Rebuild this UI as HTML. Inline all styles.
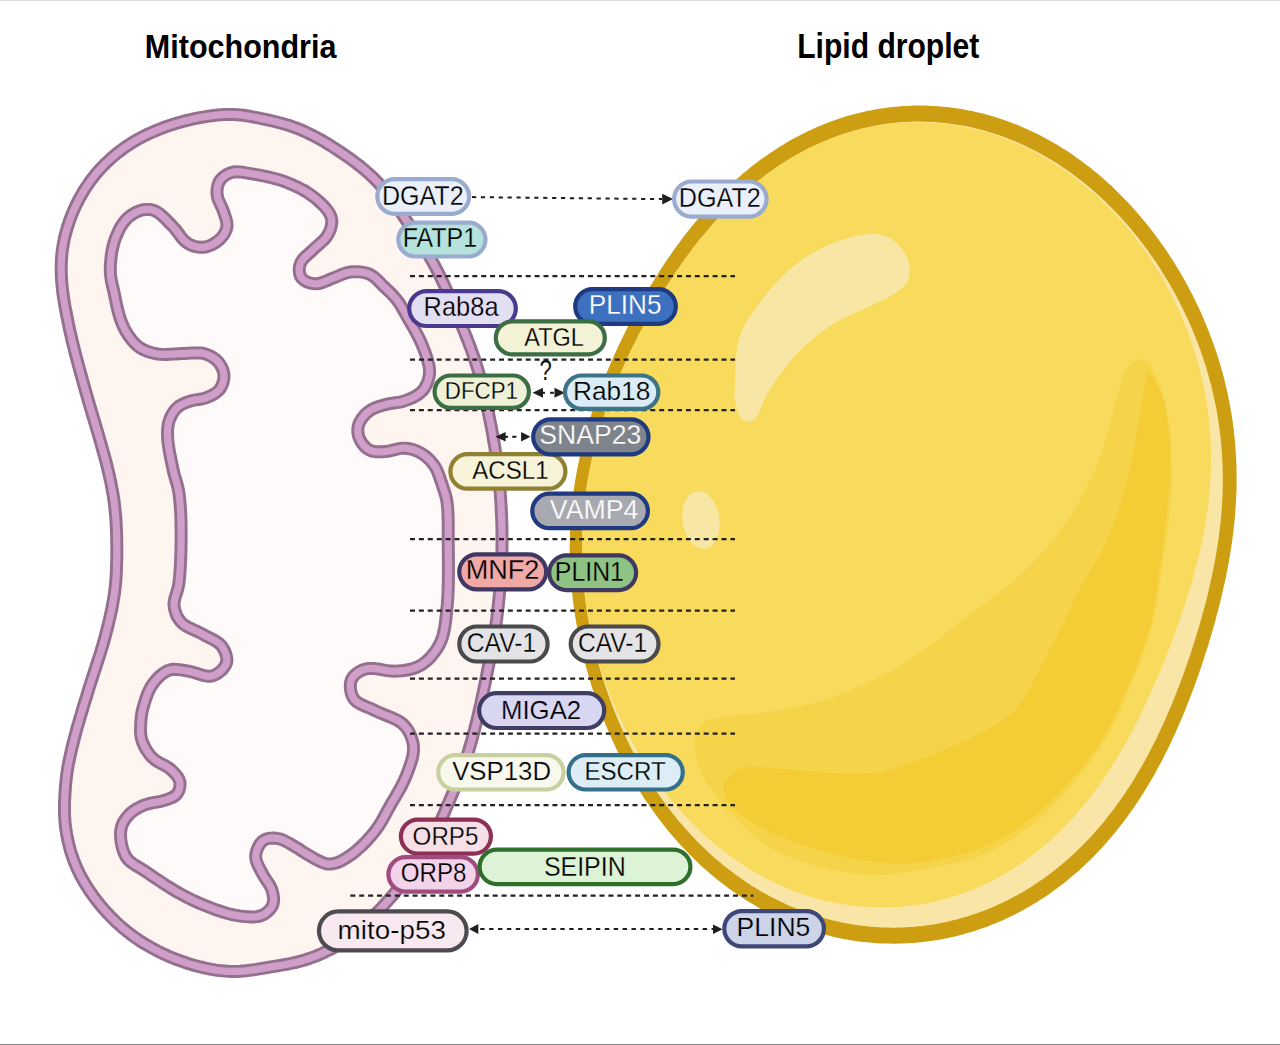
<!DOCTYPE html><html><head><meta charset="utf-8"><style>html,body{margin:0;padding:0;background:#fff;}body{width:1280px;height:1045px;overflow:hidden;position:relative;}svg{position:absolute;left:0;top:0;display:block}</style></head><body>
<svg width="1280" height="1045" viewBox="0 0 1280 1045">
<rect x="0" y="0" width="1280" height="1" fill="#dcdcdc"/>
<rect x="0" y="1044" width="1280" height="1" fill="#858585"/>
<text transform="translate(144.84 57.70) scale(30.5267 34.1091)" font-size="1" font-family='"Liberation Sans", sans-serif' font-weight="bold" fill="#000">Mitochondria</text>
<text transform="translate(797.17 57.50) scale(30.1088 34.3273)" font-size="1" font-family='"Liberation Sans", sans-serif' font-weight="bold" fill="#000">Lipid droplet</text>
<path d="M231.4,114.4 L234.4,114.5 L237.4,114.7 L240.3,114.9 L243.3,115.3 L246.3,115.7 L249.2,116.2 L252.2,116.8 L255.1,117.3 L258.1,117.9 L261.0,118.5 L263.9,119.1 L266.9,119.7 L269.8,120.4 L272.7,121.0 L275.6,121.7 L278.5,122.5 L281.4,123.2 L284.3,124.1 L287.2,124.9 L290.0,125.8 L292.9,126.8 L295.7,127.8 L298.5,128.9 L301.3,130.0 L304.0,131.2 L306.7,132.5 L309.4,133.8 L312.1,135.1 L314.8,136.5 L317.4,137.9 L320.0,139.3 L322.7,140.8 L325.2,142.4 L327.8,143.9 L330.4,145.5 L332.9,147.1 L335.4,148.7 L337.9,150.3 L340.4,152.0 L342.9,153.7 L345.4,155.4 L347.9,157.1 L350.3,158.8 L352.7,160.6 L355.1,162.4 L357.5,164.2 L359.9,166.0 L362.2,167.9 L364.5,169.8 L366.8,171.8 L369.0,173.8 L371.2,175.8 L373.4,177.9 L375.5,180.0 L377.6,182.2 L379.6,184.4 L381.6,186.6 L383.6,188.9 L385.5,191.2 L387.3,193.6 L389.1,195.9 L390.9,198.3 L392.7,200.8 L394.4,203.2 L396.2,205.6 L397.9,208.1 L399.6,210.6 L401.3,213.0 L403.0,215.5 L404.7,218.0 L406.4,220.5 L408.1,223.0 L409.8,225.4 L411.4,227.9 L413.1,230.4 L414.8,232.9 L416.4,235.4 L418.1,237.9 L419.7,240.4 L421.3,243.0 L422.9,245.5 L424.5,248.0 L426.1,250.6 L427.6,253.2 L429.1,255.8 L430.6,258.4 L432.1,261.0 L433.5,263.6 L434.9,266.3 L436.3,268.9 L437.7,271.6 L439.1,274.3 L440.4,277.0 L441.7,279.7 L443.0,282.4 L444.3,285.1 L445.5,287.8 L446.8,290.5 L448.0,293.3 L449.2,296.0 L450.4,298.8 L451.7,301.5 L452.8,304.3 L454.0,307.0 L455.2,309.8 L456.4,312.5 L457.5,315.3 L458.7,318.1 L459.8,320.8 L461.0,323.6 L462.1,326.4 L463.2,329.2 L464.4,332.0 L465.5,334.7 L466.6,337.5 L467.7,340.3 L468.8,343.1 L469.8,345.9 L470.9,348.7 L471.9,351.6 L472.9,354.4 L473.9,357.2 L474.9,360.1 L475.8,362.9 L476.7,365.8 L477.6,368.6 L478.4,371.5 L479.2,374.4 L480.1,377.3 L480.8,380.2 L481.6,383.1 L482.3,386.0 L483.1,388.9 L483.8,391.8 L484.4,394.8 L485.1,397.7 L485.8,400.6 L486.4,403.5 L487.1,406.5 L487.7,409.4 L488.3,412.3 L488.9,415.3 L489.5,418.2 L490.1,421.2 L490.7,424.1 L491.3,427.0 L491.8,430.0 L492.4,432.9 L492.9,435.9 L493.4,438.9 L493.9,441.8 L494.4,444.8 L494.9,447.7 L495.3,450.7 L495.8,453.7 L496.2,456.6 L496.6,459.6 L497.0,462.6 L497.4,465.6 L497.8,468.5 L498.2,471.5 L498.5,474.5 L498.8,477.5 L499.1,480.5 L499.4,483.5 L499.7,486.4 L499.9,489.4 L500.2,492.4 L500.4,495.4 L500.6,498.4 L500.8,501.4 L501.0,504.4 L501.1,507.4 L501.3,510.4 L501.4,513.4 L501.6,516.4 L501.7,519.4 L501.8,522.4 L501.9,525.4 L501.9,528.4 L502.0,531.4 L502.0,534.4 L502.0,537.4 L502.1,540.4 L502.0,543.4 L502.0,546.4 L502.0,549.4 L501.9,552.4 L501.8,555.4 L501.7,558.4 L501.6,561.4 L501.4,564.4 L501.3,567.4 L501.1,570.4 L501.0,573.4 L500.8,576.4 L500.6,579.3 L500.3,582.3 L500.1,585.3 L499.9,588.3 L499.6,591.3 L499.4,594.3 L499.1,597.3 L498.8,600.3 L498.5,603.3 L498.2,606.2 L497.8,609.2 L497.5,612.2 L497.1,615.2 L496.8,618.2 L496.4,621.1 L496.0,624.1 L495.5,627.1 L495.1,630.0 L494.6,633.0 L494.1,636.0 L493.7,638.9 L493.1,641.9 L492.6,644.8 L492.1,647.8 L491.5,650.7 L490.9,653.7 L490.4,656.6 L489.8,659.6 L489.2,662.5 L488.6,665.5 L488.0,668.4 L487.4,671.4 L486.8,674.3 L486.3,677.2 L485.7,680.2 L485.1,683.1 L484.5,686.1 L483.9,689.0 L483.3,691.9 L482.7,694.9 L482.0,697.8 L481.4,700.7 L480.8,703.7 L480.1,706.6 L479.4,709.5 L478.8,712.5 L478.1,715.4 L477.4,718.3 L476.7,721.2 L476.0,724.1 L475.2,727.0 L474.5,729.9 L473.7,732.8 L472.9,735.7 L472.2,738.6 L471.4,741.5 L470.5,744.4 L469.7,747.3 L468.8,750.2 L467.9,753.0 L467.0,755.9 L466.0,758.7 L465.1,761.6 L464.1,764.4 L463.0,767.2 L462.0,770.0 L460.9,772.8 L459.8,775.6 L458.7,778.4 L457.6,781.2 L456.5,784.0 L455.4,786.8 L454.2,789.5 L453.1,792.3 L451.9,795.1 L450.7,797.8 L449.5,800.6 L448.3,803.3 L447.1,806.1 L445.9,808.8 L444.8,811.6 L443.6,814.3 L442.4,817.1 L441.2,819.8 L440.0,822.6 L438.8,825.3 L437.5,828.1 L436.3,830.8 L435.1,833.6 L433.8,836.3 L432.5,839.0 L431.2,841.7 L429.9,844.4 L428.5,847.0 L427.1,849.7 L425.6,852.3 L424.1,854.9 L422.5,857.4 L420.9,859.9 L419.2,862.4 L417.5,864.9 L415.7,867.3 L414.0,869.7 L412.1,872.1 L410.3,874.4 L408.4,876.8 L406.5,879.1 L404.5,881.4 L402.6,883.7 L400.7,886.0 L398.7,888.2 L396.8,890.5 L394.8,892.8 L392.9,895.1 L390.9,897.3 L388.9,899.6 L386.9,901.8 L384.9,904.1 L382.9,906.3 L380.9,908.5 L378.8,910.7 L376.7,912.8 L374.6,914.9 L372.5,917.1 L370.3,919.2 L368.2,921.2 L366.0,923.3 L363.8,925.3 L361.5,927.3 L359.3,929.3 L357.0,931.3 L354.7,933.2 L352.4,935.1 L350.0,936.9 L347.6,938.7 L345.2,940.4 L342.7,942.1 L340.2,943.7 L337.6,945.3 L335.1,946.8 L332.4,948.3 L329.8,949.7 L327.1,951.0 L324.4,952.3 L321.7,953.6 L318.9,954.8 L316.2,955.9 L313.4,957.0 L310.6,958.0 L307.7,959.0 L304.9,959.9 L302.0,960.7 L299.1,961.5 L296.2,962.3 L293.3,962.9 L290.4,963.5 L287.4,964.1 L284.5,964.7 L281.5,965.2 L278.6,965.7 L275.6,966.1 L272.6,966.6 L269.7,967.1 L266.7,967.6 L263.8,968.1 L260.8,968.6 L257.8,969.1 L254.9,969.6 L251.9,970.0 L248.9,970.4 L246.0,970.8 L243.0,971.0 L240.0,971.3 L237.0,971.4 L234.0,971.4 L231.0,971.4 L228.0,971.3 L225.1,971.1 L222.1,970.8 L219.1,970.5 L216.1,970.1 L213.2,969.6 L210.2,969.1 L207.3,968.5 L204.4,967.9 L201.4,967.2 L198.5,966.5 L195.6,965.7 L192.7,964.9 L189.9,964.1 L187.0,963.2 L184.2,962.2 L181.3,961.2 L178.5,960.2 L175.7,959.1 L172.9,958.0 L170.2,956.9 L167.4,955.7 L164.7,954.4 L162.0,953.2 L159.3,951.9 L156.6,950.5 L153.9,949.1 L151.3,947.7 L148.7,946.2 L146.1,944.7 L143.5,943.1 L141.0,941.6 L138.5,939.9 L136.0,938.2 L133.6,936.5 L131.2,934.7 L128.8,932.9 L126.4,931.0 L124.1,929.1 L121.8,927.2 L119.6,925.2 L117.4,923.2 L115.2,921.1 L113.1,919.0 L110.9,916.9 L108.9,914.7 L106.8,912.6 L104.8,910.3 L102.8,908.1 L100.9,905.8 L99.0,903.5 L97.1,901.1 L95.3,898.8 L93.5,896.4 L91.8,893.9 L90.0,891.5 L88.4,889.0 L86.8,886.4 L85.2,883.9 L83.7,881.3 L82.2,878.7 L80.8,876.1 L79.4,873.4 L78.1,870.7 L76.8,868.0 L75.7,865.2 L74.5,862.5 L73.5,859.7 L72.5,856.8 L71.5,854.0 L70.6,851.1 L69.8,848.3 L69.1,845.4 L68.3,842.5 L67.7,839.5 L67.1,836.6 L66.5,833.7 L66.1,830.7 L65.6,827.7 L65.3,824.8 L65.0,821.8 L64.8,818.8 L64.6,815.8 L64.5,812.8 L64.5,809.8 L64.5,806.8 L64.5,803.8 L64.6,800.8 L64.8,797.8 L64.9,794.8 L65.1,791.8 L65.3,788.8 L65.5,785.8 L65.8,782.9 L66.1,779.9 L66.4,776.9 L66.8,773.9 L67.2,771.0 L67.7,768.0 L68.2,765.0 L68.8,762.1 L69.4,759.2 L70.0,756.2 L70.7,753.3 L71.3,750.4 L72.0,747.5 L72.8,744.5 L73.5,741.6 L74.2,738.7 L75.0,735.8 L75.8,732.9 L76.5,730.0 L77.3,727.1 L78.2,724.3 L79.0,721.4 L79.8,718.5 L80.7,715.6 L81.5,712.7 L82.4,709.9 L83.2,707.0 L84.1,704.1 L85.0,701.2 L85.9,698.4 L86.8,695.5 L87.7,692.6 L88.5,689.8 L89.4,686.9 L90.3,684.0 L91.2,681.2 L92.2,678.3 L93.1,675.5 L94.0,672.6 L94.9,669.8 L95.9,666.9 L96.8,664.1 L97.7,661.2 L98.6,658.4 L99.6,655.5 L100.5,652.6 L101.3,649.8 L102.2,646.9 L103.1,644.0 L103.9,641.1 L104.7,638.2 L105.5,635.3 L106.2,632.4 L107.0,629.5 L107.7,626.6 L108.4,623.7 L109.1,620.8 L109.8,617.9 L110.4,614.9 L111.1,612.0 L111.7,609.1 L112.3,606.1 L112.8,603.2 L113.3,600.2 L113.8,597.3 L114.3,594.3 L114.7,591.3 L115.0,588.4 L115.4,585.4 L115.7,582.4 L115.9,579.4 L116.1,576.4 L116.3,573.4 L116.4,570.4 L116.5,567.4 L116.6,564.4 L116.7,561.4 L116.8,558.4 L116.8,555.4 L116.8,552.4 L116.8,549.4 L116.8,546.4 L116.8,543.4 L116.7,540.4 L116.7,537.4 L116.6,534.4 L116.5,531.4 L116.4,528.4 L116.2,525.4 L116.1,522.4 L115.9,519.4 L115.7,516.4 L115.4,513.5 L115.1,510.5 L114.8,507.5 L114.5,504.5 L114.1,501.5 L113.7,498.6 L113.2,495.6 L112.7,492.6 L112.2,489.7 L111.6,486.7 L111.1,483.8 L110.5,480.9 L109.8,477.9 L109.2,475.0 L108.5,472.1 L107.8,469.2 L107.1,466.2 L106.4,463.3 L105.6,460.4 L104.8,457.5 L104.0,454.6 L103.2,451.8 L102.4,448.9 L101.6,446.0 L100.8,443.1 L100.0,440.2 L99.1,437.3 L98.3,434.4 L97.5,431.6 L96.6,428.7 L95.8,425.8 L94.9,422.9 L94.1,420.0 L93.2,417.2 L92.3,414.3 L91.5,411.4 L90.6,408.5 L89.8,405.7 L88.9,402.8 L88.1,399.9 L87.3,397.0 L86.4,394.1 L85.6,391.2 L84.8,388.4 L84.0,385.5 L83.2,382.6 L82.4,379.7 L81.6,376.8 L80.8,373.9 L80.0,371.0 L79.2,368.1 L78.4,365.2 L77.6,362.3 L76.9,359.4 L76.1,356.5 L75.3,353.6 L74.6,350.7 L73.9,347.8 L73.2,344.9 L72.4,342.0 L71.7,339.1 L71.1,336.1 L70.4,333.2 L69.7,330.3 L69.1,327.3 L68.5,324.4 L67.9,321.5 L67.3,318.5 L66.7,315.6 L66.1,312.6 L65.6,309.7 L65.0,306.7 L64.5,303.8 L64.0,300.8 L63.6,297.9 L63.1,294.9 L62.7,291.9 L62.4,288.9 L62.1,286.0 L61.8,283.0 L61.6,280.0 L61.4,277.0 L61.3,274.0 L61.2,271.0 L61.2,268.0 L61.3,265.0 L61.3,262.0 L61.5,259.0 L61.7,256.0 L62.0,253.1 L62.3,250.1 L62.8,247.1 L63.3,244.2 L63.8,241.2 L64.4,238.3 L65.1,235.4 L65.9,232.5 L66.7,229.6 L67.5,226.7 L68.5,223.9 L69.4,221.0 L70.5,218.2 L71.5,215.4 L72.7,212.7 L73.8,209.9 L75.1,207.2 L76.3,204.5 L77.7,201.8 L79.1,199.1 L80.5,196.5 L82.0,193.9 L83.5,191.3 L85.1,188.8 L86.7,186.3 L88.4,183.8 L90.1,181.3 L91.9,178.9 L93.8,176.6 L95.6,174.2 L97.6,171.9 L99.6,169.7 L101.6,167.5 L103.7,165.3 L105.8,163.2 L108.0,161.2 L110.2,159.1 L112.4,157.2 L114.7,155.2 L117.0,153.3 L119.4,151.5 L121.8,149.7 L124.2,147.9 L126.7,146.2 L129.1,144.6 L131.7,142.9 L134.2,141.4 L136.8,139.9 L139.4,138.4 L142.1,137.0 L144.7,135.6 L147.4,134.3 L150.2,133.1 L152.9,131.9 L155.7,130.7 L158.4,129.6 L161.2,128.5 L164.0,127.4 L166.9,126.4 L169.7,125.4 L172.5,124.5 L175.4,123.6 L178.3,122.8 L181.2,121.9 L184.1,121.1 L187.0,120.4 L189.9,119.7 L192.8,119.0 L195.7,118.4 L198.7,117.8 L201.6,117.3 L204.6,116.8 L207.5,116.3 L210.5,115.9 L213.5,115.5 L216.5,115.1 L219.4,114.9 L222.4,114.6 L225.4,114.5 L228.4,114.4Z" fill="#fef4f0" stroke="#94708f" stroke-width="13" stroke-linejoin="round"/>
<path d="M231.4,114.4 L234.4,114.5 L237.4,114.7 L240.3,114.9 L243.3,115.3 L246.3,115.7 L249.2,116.2 L252.2,116.8 L255.1,117.3 L258.1,117.9 L261.0,118.5 L263.9,119.1 L266.9,119.7 L269.8,120.4 L272.7,121.0 L275.6,121.7 L278.5,122.5 L281.4,123.2 L284.3,124.1 L287.2,124.9 L290.0,125.8 L292.9,126.8 L295.7,127.8 L298.5,128.9 L301.3,130.0 L304.0,131.2 L306.7,132.5 L309.4,133.8 L312.1,135.1 L314.8,136.5 L317.4,137.9 L320.0,139.3 L322.7,140.8 L325.2,142.4 L327.8,143.9 L330.4,145.5 L332.9,147.1 L335.4,148.7 L337.9,150.3 L340.4,152.0 L342.9,153.7 L345.4,155.4 L347.9,157.1 L350.3,158.8 L352.7,160.6 L355.1,162.4 L357.5,164.2 L359.9,166.0 L362.2,167.9 L364.5,169.8 L366.8,171.8 L369.0,173.8 L371.2,175.8 L373.4,177.9 L375.5,180.0 L377.6,182.2 L379.6,184.4 L381.6,186.6 L383.6,188.9 L385.5,191.2 L387.3,193.6 L389.1,195.9 L390.9,198.3 L392.7,200.8 L394.4,203.2 L396.2,205.6 L397.9,208.1 L399.6,210.6 L401.3,213.0 L403.0,215.5 L404.7,218.0 L406.4,220.5 L408.1,223.0 L409.8,225.4 L411.4,227.9 L413.1,230.4 L414.8,232.9 L416.4,235.4 L418.1,237.9 L419.7,240.4 L421.3,243.0 L422.9,245.5 L424.5,248.0 L426.1,250.6 L427.6,253.2 L429.1,255.8 L430.6,258.4 L432.1,261.0 L433.5,263.6 L434.9,266.3 L436.3,268.9 L437.7,271.6 L439.1,274.3 L440.4,277.0 L441.7,279.7 L443.0,282.4 L444.3,285.1 L445.5,287.8 L446.8,290.5 L448.0,293.3 L449.2,296.0 L450.4,298.8 L451.7,301.5 L452.8,304.3 L454.0,307.0 L455.2,309.8 L456.4,312.5 L457.5,315.3 L458.7,318.1 L459.8,320.8 L461.0,323.6 L462.1,326.4 L463.2,329.2 L464.4,332.0 L465.5,334.7 L466.6,337.5 L467.7,340.3 L468.8,343.1 L469.8,345.9 L470.9,348.7 L471.9,351.6 L472.9,354.4 L473.9,357.2 L474.9,360.1 L475.8,362.9 L476.7,365.8 L477.6,368.6 L478.4,371.5 L479.2,374.4 L480.1,377.3 L480.8,380.2 L481.6,383.1 L482.3,386.0 L483.1,388.9 L483.8,391.8 L484.4,394.8 L485.1,397.7 L485.8,400.6 L486.4,403.5 L487.1,406.5 L487.7,409.4 L488.3,412.3 L488.9,415.3 L489.5,418.2 L490.1,421.2 L490.7,424.1 L491.3,427.0 L491.8,430.0 L492.4,432.9 L492.9,435.9 L493.4,438.9 L493.9,441.8 L494.4,444.8 L494.9,447.7 L495.3,450.7 L495.8,453.7 L496.2,456.6 L496.6,459.6 L497.0,462.6 L497.4,465.6 L497.8,468.5 L498.2,471.5 L498.5,474.5 L498.8,477.5 L499.1,480.5 L499.4,483.5 L499.7,486.4 L499.9,489.4 L500.2,492.4 L500.4,495.4 L500.6,498.4 L500.8,501.4 L501.0,504.4 L501.1,507.4 L501.3,510.4 L501.4,513.4 L501.6,516.4 L501.7,519.4 L501.8,522.4 L501.9,525.4 L501.9,528.4 L502.0,531.4 L502.0,534.4 L502.0,537.4 L502.1,540.4 L502.0,543.4 L502.0,546.4 L502.0,549.4 L501.9,552.4 L501.8,555.4 L501.7,558.4 L501.6,561.4 L501.4,564.4 L501.3,567.4 L501.1,570.4 L501.0,573.4 L500.8,576.4 L500.6,579.3 L500.3,582.3 L500.1,585.3 L499.9,588.3 L499.6,591.3 L499.4,594.3 L499.1,597.3 L498.8,600.3 L498.5,603.3 L498.2,606.2 L497.8,609.2 L497.5,612.2 L497.1,615.2 L496.8,618.2 L496.4,621.1 L496.0,624.1 L495.5,627.1 L495.1,630.0 L494.6,633.0 L494.1,636.0 L493.7,638.9 L493.1,641.9 L492.6,644.8 L492.1,647.8 L491.5,650.7 L490.9,653.7 L490.4,656.6 L489.8,659.6 L489.2,662.5 L488.6,665.5 L488.0,668.4 L487.4,671.4 L486.8,674.3 L486.3,677.2 L485.7,680.2 L485.1,683.1 L484.5,686.1 L483.9,689.0 L483.3,691.9 L482.7,694.9 L482.0,697.8 L481.4,700.7 L480.8,703.7 L480.1,706.6 L479.4,709.5 L478.8,712.5 L478.1,715.4 L477.4,718.3 L476.7,721.2 L476.0,724.1 L475.2,727.0 L474.5,729.9 L473.7,732.8 L472.9,735.7 L472.2,738.6 L471.4,741.5 L470.5,744.4 L469.7,747.3 L468.8,750.2 L467.9,753.0 L467.0,755.9 L466.0,758.7 L465.1,761.6 L464.1,764.4 L463.0,767.2 L462.0,770.0 L460.9,772.8 L459.8,775.6 L458.7,778.4 L457.6,781.2 L456.5,784.0 L455.4,786.8 L454.2,789.5 L453.1,792.3 L451.9,795.1 L450.7,797.8 L449.5,800.6 L448.3,803.3 L447.1,806.1 L445.9,808.8 L444.8,811.6 L443.6,814.3 L442.4,817.1 L441.2,819.8 L440.0,822.6 L438.8,825.3 L437.5,828.1 L436.3,830.8 L435.1,833.6 L433.8,836.3 L432.5,839.0 L431.2,841.7 L429.9,844.4 L428.5,847.0 L427.1,849.7 L425.6,852.3 L424.1,854.9 L422.5,857.4 L420.9,859.9 L419.2,862.4 L417.5,864.9 L415.7,867.3 L414.0,869.7 L412.1,872.1 L410.3,874.4 L408.4,876.8 L406.5,879.1 L404.5,881.4 L402.6,883.7 L400.7,886.0 L398.7,888.2 L396.8,890.5 L394.8,892.8 L392.9,895.1 L390.9,897.3 L388.9,899.6 L386.9,901.8 L384.9,904.1 L382.9,906.3 L380.9,908.5 L378.8,910.7 L376.7,912.8 L374.6,914.9 L372.5,917.1 L370.3,919.2 L368.2,921.2 L366.0,923.3 L363.8,925.3 L361.5,927.3 L359.3,929.3 L357.0,931.3 L354.7,933.2 L352.4,935.1 L350.0,936.9 L347.6,938.7 L345.2,940.4 L342.7,942.1 L340.2,943.7 L337.6,945.3 L335.1,946.8 L332.4,948.3 L329.8,949.7 L327.1,951.0 L324.4,952.3 L321.7,953.6 L318.9,954.8 L316.2,955.9 L313.4,957.0 L310.6,958.0 L307.7,959.0 L304.9,959.9 L302.0,960.7 L299.1,961.5 L296.2,962.3 L293.3,962.9 L290.4,963.5 L287.4,964.1 L284.5,964.7 L281.5,965.2 L278.6,965.7 L275.6,966.1 L272.6,966.6 L269.7,967.1 L266.7,967.6 L263.8,968.1 L260.8,968.6 L257.8,969.1 L254.9,969.6 L251.9,970.0 L248.9,970.4 L246.0,970.8 L243.0,971.0 L240.0,971.3 L237.0,971.4 L234.0,971.4 L231.0,971.4 L228.0,971.3 L225.1,971.1 L222.1,970.8 L219.1,970.5 L216.1,970.1 L213.2,969.6 L210.2,969.1 L207.3,968.5 L204.4,967.9 L201.4,967.2 L198.5,966.5 L195.6,965.7 L192.7,964.9 L189.9,964.1 L187.0,963.2 L184.2,962.2 L181.3,961.2 L178.5,960.2 L175.7,959.1 L172.9,958.0 L170.2,956.9 L167.4,955.7 L164.7,954.4 L162.0,953.2 L159.3,951.9 L156.6,950.5 L153.9,949.1 L151.3,947.7 L148.7,946.2 L146.1,944.7 L143.5,943.1 L141.0,941.6 L138.5,939.9 L136.0,938.2 L133.6,936.5 L131.2,934.7 L128.8,932.9 L126.4,931.0 L124.1,929.1 L121.8,927.2 L119.6,925.2 L117.4,923.2 L115.2,921.1 L113.1,919.0 L110.9,916.9 L108.9,914.7 L106.8,912.6 L104.8,910.3 L102.8,908.1 L100.9,905.8 L99.0,903.5 L97.1,901.1 L95.3,898.8 L93.5,896.4 L91.8,893.9 L90.0,891.5 L88.4,889.0 L86.8,886.4 L85.2,883.9 L83.7,881.3 L82.2,878.7 L80.8,876.1 L79.4,873.4 L78.1,870.7 L76.8,868.0 L75.7,865.2 L74.5,862.5 L73.5,859.7 L72.5,856.8 L71.5,854.0 L70.6,851.1 L69.8,848.3 L69.1,845.4 L68.3,842.5 L67.7,839.5 L67.1,836.6 L66.5,833.7 L66.1,830.7 L65.6,827.7 L65.3,824.8 L65.0,821.8 L64.8,818.8 L64.6,815.8 L64.5,812.8 L64.5,809.8 L64.5,806.8 L64.5,803.8 L64.6,800.8 L64.8,797.8 L64.9,794.8 L65.1,791.8 L65.3,788.8 L65.5,785.8 L65.8,782.9 L66.1,779.9 L66.4,776.9 L66.8,773.9 L67.2,771.0 L67.7,768.0 L68.2,765.0 L68.8,762.1 L69.4,759.2 L70.0,756.2 L70.7,753.3 L71.3,750.4 L72.0,747.5 L72.8,744.5 L73.5,741.6 L74.2,738.7 L75.0,735.8 L75.8,732.9 L76.5,730.0 L77.3,727.1 L78.2,724.3 L79.0,721.4 L79.8,718.5 L80.7,715.6 L81.5,712.7 L82.4,709.9 L83.2,707.0 L84.1,704.1 L85.0,701.2 L85.9,698.4 L86.8,695.5 L87.7,692.6 L88.5,689.8 L89.4,686.9 L90.3,684.0 L91.2,681.2 L92.2,678.3 L93.1,675.5 L94.0,672.6 L94.9,669.8 L95.9,666.9 L96.8,664.1 L97.7,661.2 L98.6,658.4 L99.6,655.5 L100.5,652.6 L101.3,649.8 L102.2,646.9 L103.1,644.0 L103.9,641.1 L104.7,638.2 L105.5,635.3 L106.2,632.4 L107.0,629.5 L107.7,626.6 L108.4,623.7 L109.1,620.8 L109.8,617.9 L110.4,614.9 L111.1,612.0 L111.7,609.1 L112.3,606.1 L112.8,603.2 L113.3,600.2 L113.8,597.3 L114.3,594.3 L114.7,591.3 L115.0,588.4 L115.4,585.4 L115.7,582.4 L115.9,579.4 L116.1,576.4 L116.3,573.4 L116.4,570.4 L116.5,567.4 L116.6,564.4 L116.7,561.4 L116.8,558.4 L116.8,555.4 L116.8,552.4 L116.8,549.4 L116.8,546.4 L116.8,543.4 L116.7,540.4 L116.7,537.4 L116.6,534.4 L116.5,531.4 L116.4,528.4 L116.2,525.4 L116.1,522.4 L115.9,519.4 L115.7,516.4 L115.4,513.5 L115.1,510.5 L114.8,507.5 L114.5,504.5 L114.1,501.5 L113.7,498.6 L113.2,495.6 L112.7,492.6 L112.2,489.7 L111.6,486.7 L111.1,483.8 L110.5,480.9 L109.8,477.9 L109.2,475.0 L108.5,472.1 L107.8,469.2 L107.1,466.2 L106.4,463.3 L105.6,460.4 L104.8,457.5 L104.0,454.6 L103.2,451.8 L102.4,448.9 L101.6,446.0 L100.8,443.1 L100.0,440.2 L99.1,437.3 L98.3,434.4 L97.5,431.6 L96.6,428.7 L95.8,425.8 L94.9,422.9 L94.1,420.0 L93.2,417.2 L92.3,414.3 L91.5,411.4 L90.6,408.5 L89.8,405.7 L88.9,402.8 L88.1,399.9 L87.3,397.0 L86.4,394.1 L85.6,391.2 L84.8,388.4 L84.0,385.5 L83.2,382.6 L82.4,379.7 L81.6,376.8 L80.8,373.9 L80.0,371.0 L79.2,368.1 L78.4,365.2 L77.6,362.3 L76.9,359.4 L76.1,356.5 L75.3,353.6 L74.6,350.7 L73.9,347.8 L73.2,344.9 L72.4,342.0 L71.7,339.1 L71.1,336.1 L70.4,333.2 L69.7,330.3 L69.1,327.3 L68.5,324.4 L67.9,321.5 L67.3,318.5 L66.7,315.6 L66.1,312.6 L65.6,309.7 L65.0,306.7 L64.5,303.8 L64.0,300.8 L63.6,297.9 L63.1,294.9 L62.7,291.9 L62.4,288.9 L62.1,286.0 L61.8,283.0 L61.6,280.0 L61.4,277.0 L61.3,274.0 L61.2,271.0 L61.2,268.0 L61.3,265.0 L61.3,262.0 L61.5,259.0 L61.7,256.0 L62.0,253.1 L62.3,250.1 L62.8,247.1 L63.3,244.2 L63.8,241.2 L64.4,238.3 L65.1,235.4 L65.9,232.5 L66.7,229.6 L67.5,226.7 L68.5,223.9 L69.4,221.0 L70.5,218.2 L71.5,215.4 L72.7,212.7 L73.8,209.9 L75.1,207.2 L76.3,204.5 L77.7,201.8 L79.1,199.1 L80.5,196.5 L82.0,193.9 L83.5,191.3 L85.1,188.8 L86.7,186.3 L88.4,183.8 L90.1,181.3 L91.9,178.9 L93.8,176.6 L95.6,174.2 L97.6,171.9 L99.6,169.7 L101.6,167.5 L103.7,165.3 L105.8,163.2 L108.0,161.2 L110.2,159.1 L112.4,157.2 L114.7,155.2 L117.0,153.3 L119.4,151.5 L121.8,149.7 L124.2,147.9 L126.7,146.2 L129.1,144.6 L131.7,142.9 L134.2,141.4 L136.8,139.9 L139.4,138.4 L142.1,137.0 L144.7,135.6 L147.4,134.3 L150.2,133.1 L152.9,131.9 L155.7,130.7 L158.4,129.6 L161.2,128.5 L164.0,127.4 L166.9,126.4 L169.7,125.4 L172.5,124.5 L175.4,123.6 L178.3,122.8 L181.2,121.9 L184.1,121.1 L187.0,120.4 L189.9,119.7 L192.8,119.0 L195.7,118.4 L198.7,117.8 L201.6,117.3 L204.6,116.8 L207.5,116.3 L210.5,115.9 L213.5,115.5 L216.5,115.1 L219.4,114.9 L222.4,114.6 L225.4,114.5 L228.4,114.4Z" fill="none" stroke="#cf9fc9" stroke-width="7.2"/>
<path d="M120.0,318.0 L119.1,315.1 L118.3,312.2 L117.6,309.3 L116.9,306.4 L116.3,303.5 L115.7,300.5 L115.1,297.6 L114.5,294.7 L113.9,291.7 L113.2,288.8 L112.5,285.9 L111.8,283.0 L111.2,280.0 L110.8,277.0 L110.4,274.1 L110.3,271.1 L110.3,268.1 L110.4,265.1 L110.6,262.1 L110.9,259.1 L111.2,256.1 L111.6,253.1 L112.1,250.2 L112.8,247.2 L113.5,244.3 L114.3,241.5 L115.3,238.6 L116.4,235.8 L117.6,233.1 L118.8,230.3 L120.2,227.7 L121.8,225.1 L123.5,222.6 L125.4,220.3 L127.4,218.2 L129.7,216.2 L132.2,214.5 L134.7,212.9 L137.4,211.6 L140.2,210.6 L143.1,209.8 L146.1,209.4 L149.1,209.4 L152.0,209.9 L154.8,210.8 L157.5,212.2 L159.9,213.9 L162.2,215.9 L164.4,217.9 L166.6,220.0 L168.6,222.2 L170.7,224.3 L172.8,226.5 L174.8,228.7 L176.7,231.0 L178.5,233.4 L180.3,235.9 L182.1,238.2 L184.1,240.5 L186.4,242.4 L188.9,244.0 L191.6,245.3 L194.4,246.3 L197.4,247.0 L200.3,247.3 L203.3,247.3 L206.3,246.8 L209.1,245.9 L211.9,244.7 L214.5,243.3 L217.0,241.6 L219.3,239.7 L221.5,237.6 L223.3,235.3 L224.9,232.7 L226.1,230.0 L226.9,227.1 L227.0,224.2 L226.5,221.2 L225.8,218.3 L224.8,215.5 L223.9,212.6 L222.9,209.8 L221.6,207.0 L220.4,204.3 L219.1,201.6 L218.0,198.8 L217.3,195.9 L217.0,192.9 L217.0,190.0 L217.5,187.0 L218.2,184.1 L219.4,181.4 L221.2,178.9 L223.3,176.9 L225.7,175.1 L228.4,173.7 L231.1,172.6 L234.0,171.9 L237.0,171.7 L240.0,171.9 L243.0,172.3 L246.0,172.8 L248.9,173.3 L251.9,173.8 L254.8,174.3 L257.8,174.8 L260.7,175.4 L263.7,176.0 L266.6,176.6 L269.5,177.3 L272.5,178.0 L275.4,178.7 L278.2,179.5 L281.1,180.4 L284.0,181.4 L286.8,182.4 L289.5,183.6 L292.3,184.7 L295.0,186.0 L297.8,187.2 L300.4,188.6 L303.1,190.0 L305.7,191.5 L308.2,193.1 L310.7,194.8 L313.1,196.6 L315.5,198.4 L317.8,200.4 L320.0,202.4 L322.2,204.4 L324.3,206.6 L326.2,208.8 L328.1,211.2 L329.7,213.7 L330.9,216.5 L331.7,219.3 L331.8,222.3 L331.4,225.3 L330.7,228.2 L329.7,231.0 L328.4,233.7 L326.9,236.3 L325.1,238.7 L323.0,240.8 L320.8,242.8 L318.5,244.8 L316.2,246.8 L314.0,248.8 L311.9,250.9 L309.7,252.9 L307.4,254.9 L305.2,256.9 L303.1,259.1 L301.4,261.5 L300.1,264.2 L299.4,267.1 L299.2,270.1 L299.5,273.0 L300.3,275.9 L301.9,278.4 L304.1,280.3 L306.7,281.8 L309.5,282.8 L312.5,283.5 L315.4,283.8 L318.4,283.6 L321.3,282.9 L324.1,281.9 L326.9,280.7 L329.6,279.5 L332.4,278.3 L335.2,277.3 L338.0,276.1 L340.7,274.9 L343.5,273.8 L346.3,272.8 L349.3,272.2 L352.2,271.8 L355.2,271.7 L358.2,271.8 L361.2,272.1 L364.2,272.6 L367.1,273.3 L369.9,274.4 L372.5,275.9 L374.9,277.7 L377.1,279.7 L379.2,281.8 L381.3,284.0 L383.4,286.1 L385.6,288.1 L387.8,290.2 L390.0,292.3 L392.1,294.4 L394.1,296.6 L396.1,298.9 L397.9,301.2 L399.6,303.7 L401.2,306.3 L402.7,308.9 L404.2,311.5 L405.6,314.1 L407.1,316.7 L408.6,319.3 L410.1,321.9 L411.6,324.5 L413.1,327.1 L414.6,329.7 L416.0,332.3 L417.4,335.0 L418.8,337.7 L420.1,340.4 L421.3,343.1 L422.5,345.9 L423.6,348.6 L424.7,351.4 L425.7,354.3 L426.6,357.1 L427.5,360.0 L428.3,362.9 L429.0,365.8 L429.5,368.8 L429.6,371.8 L429.4,374.7 L428.8,377.7 L428.1,380.6 L427.0,383.4 L425.7,386.1 L424.2,388.7 L422.3,391.0 L420.1,393.0 L417.7,394.8 L415.1,396.3 L412.5,397.7 L409.7,398.9 L406.9,400.0 L404.1,401.0 L401.2,401.9 L398.3,402.4 L395.3,402.8 L392.3,403.2 L389.4,403.6 L386.4,404.3 L383.5,405.1 L380.7,405.9 L377.8,406.8 L375.0,407.9 L372.3,409.1 L369.7,410.7 L367.3,412.5 L365.1,414.5 L363.2,416.8 L361.4,419.2 L359.8,421.8 L358.7,424.5 L358.0,427.4 L357.8,430.4 L358.0,433.4 L358.6,436.3 L359.7,439.1 L361.1,441.8 L362.8,444.2 L364.7,446.5 L367.0,448.5 L369.5,450.1 L372.2,451.2 L375.2,451.7 L378.2,451.8 L381.2,451.8 L384.2,451.6 L387.2,451.3 L390.1,450.8 L393.0,450.1 L395.9,449.4 L398.8,448.7 L401.8,448.2 L404.8,448.2 L407.8,448.5 L410.7,449.0 L413.6,449.8 L416.4,450.8 L419.2,452.1 L421.8,453.6 L424.3,455.2 L426.6,457.1 L428.8,459.1 L430.9,461.3 L432.8,463.6 L434.5,466.0 L436.1,468.6 L437.4,471.3 L438.5,474.1 L439.5,476.9 L440.5,479.8 L441.5,482.6 L442.4,485.4 L443.4,488.3 L444.3,491.1 L445.2,494.0 L446.0,496.9 L446.6,499.8 L447.1,502.8 L447.4,505.8 L447.7,508.8 L447.9,511.8 L448.0,514.8 L448.1,517.8 L448.2,520.8 L448.2,523.8 L448.2,526.8 L448.2,529.8 L448.2,532.8 L448.2,535.8 L448.2,538.8 L448.2,541.8 L448.2,544.8 L448.3,547.8 L448.3,550.8 L448.3,553.8 L448.4,556.8 L448.4,559.8 L448.4,562.8 L448.4,565.8 L448.4,568.8 L448.4,571.8 L448.4,574.8 L448.4,577.8 L448.3,580.8 L448.3,583.8 L448.2,586.8 L448.1,589.8 L448.0,592.8 L447.9,595.8 L447.7,598.8 L447.5,601.8 L447.3,604.8 L447.0,607.7 L446.7,610.7 L446.4,613.7 L446.1,616.7 L445.8,619.7 L445.4,622.7 L445.0,625.6 L444.5,628.6 L443.9,631.5 L443.2,634.5 L442.4,637.3 L441.4,640.2 L440.2,642.9 L438.9,645.6 L437.4,648.2 L435.7,650.7 L433.9,653.1 L432.0,655.4 L430.0,657.7 L427.9,659.8 L425.6,661.7 L423.3,663.6 L420.8,665.2 L418.1,666.6 L415.4,667.8 L412.5,668.7 L409.6,669.5 L406.7,670.0 L403.7,670.5 L400.7,670.8 L397.7,671.1 L394.7,671.2 L391.7,671.1 L388.8,670.8 L385.8,670.4 L382.8,669.9 L379.9,669.3 L376.9,668.9 L373.9,668.5 L370.9,668.4 L368.0,668.5 L365.0,669.2 L362.2,670.2 L359.5,671.5 L357.0,673.1 L354.7,675.0 L352.7,677.3 L351.3,679.9 L350.5,682.8 L350.3,685.7 L350.4,688.7 L350.9,691.7 L351.7,694.6 L352.9,697.3 L354.6,699.8 L356.7,701.8 L359.2,703.4 L361.9,704.8 L364.6,706.0 L367.4,707.2 L370.2,708.3 L372.9,709.6 L375.6,710.9 L378.3,712.1 L381.1,713.3 L383.9,714.5 L386.7,715.6 L389.5,716.7 L392.2,717.8 L395.0,719.1 L397.6,720.5 L400.2,722.0 L402.6,723.8 L404.7,725.9 L406.6,728.3 L408.3,730.7 L409.7,733.4 L410.9,736.1 L411.9,738.9 L412.7,741.8 L413.3,744.8 L413.5,747.7 L413.5,750.7 L413.2,753.7 L412.6,756.7 L411.9,759.6 L411.0,762.5 L410.1,765.3 L409.1,768.1 L408.1,770.9 L407.0,773.8 L405.9,776.5 L404.7,779.3 L403.4,782.0 L402.1,784.7 L400.7,787.4 L399.3,790.0 L397.8,792.6 L396.3,795.2 L394.8,797.8 L393.2,800.4 L391.7,803.0 L390.2,805.6 L388.8,808.2 L387.3,810.8 L385.9,813.5 L384.5,816.1 L383.1,818.7 L381.6,821.3 L380.0,823.9 L378.4,826.4 L376.6,828.9 L374.8,831.3 L373.0,833.6 L371.0,835.9 L369.1,838.2 L367.1,840.4 L365.0,842.6 L362.9,844.7 L360.7,846.8 L358.5,848.8 L356.2,850.8 L353.9,852.7 L351.5,854.5 L349.0,856.1 L346.5,857.8 L343.9,859.3 L341.3,860.8 L338.6,862.1 L335.8,863.1 L332.9,863.8 L329.9,864.1 L326.9,863.9 L324.0,863.1 L321.3,862.0 L318.5,860.7 L315.9,859.3 L313.3,857.8 L310.7,856.3 L308.1,854.9 L305.5,853.4 L303.0,851.8 L300.5,850.1 L298.0,848.4 L295.4,846.9 L292.8,845.4 L290.2,843.8 L287.6,842.4 L284.9,841.0 L282.2,839.7 L279.4,838.8 L276.4,838.3 L273.4,838.1 L270.4,838.2 L267.5,838.7 L264.7,839.7 L262.2,841.3 L260.2,843.5 L258.6,846.1 L257.4,848.8 L256.4,851.6 L255.8,854.5 L255.7,857.5 L256.2,860.5 L257.2,863.3 L258.4,866.0 L259.8,868.7 L261.2,871.3 L262.6,874.0 L264.1,876.6 L265.7,879.1 L267.4,881.6 L269.1,884.1 L270.5,886.7 L271.7,889.4 L272.6,892.3 L273.2,895.3 L273.6,898.2 L273.5,901.2 L273.0,904.1 L271.8,906.8 L270.0,909.3 L267.9,911.4 L265.6,913.3 L263.0,914.8 L260.2,915.9 L257.3,916.6 L254.3,916.9 L251.3,917.0 L248.4,916.8 L245.4,916.6 L242.4,916.3 L239.4,915.9 L236.4,915.4 L233.5,914.9 L230.6,914.2 L227.7,913.5 L224.8,912.6 L221.9,911.7 L219.1,910.8 L216.2,909.8 L213.4,908.8 L210.6,907.7 L207.8,906.6 L205.0,905.5 L202.2,904.4 L199.5,903.2 L196.7,902.0 L194.0,900.8 L191.3,899.5 L188.6,898.1 L185.9,896.8 L183.3,895.4 L180.6,893.9 L178.0,892.5 L175.4,891.0 L172.8,889.4 L170.3,887.9 L167.7,886.3 L165.2,884.7 L162.7,883.0 L160.2,881.4 L157.7,879.7 L155.2,878.1 L152.7,876.4 L150.2,874.7 L147.8,873.0 L145.3,871.3 L142.8,869.7 L140.2,868.1 L137.6,866.6 L135.0,865.0 L132.5,863.4 L130.2,861.6 L128.0,859.5 L126.2,857.1 L124.8,854.5 L123.6,851.7 L122.7,848.9 L121.9,845.9 L121.3,843.0 L120.9,840.0 L120.6,837.1 L120.5,834.1 L120.7,831.1 L121.2,828.1 L122.0,825.2 L123.2,822.5 L124.8,819.9 L126.5,817.5 L128.5,815.2 L130.6,813.1 L132.9,811.2 L135.4,809.5 L138.0,808.0 L140.7,806.7 L143.4,805.4 L146.2,804.4 L149.1,803.6 L152.0,802.9 L155.0,802.4 L157.9,801.9 L160.9,801.3 L163.7,800.5 L166.6,799.6 L169.5,798.6 L172.2,797.5 L174.8,796.0 L176.9,794.0 L178.5,791.4 L179.5,788.6 L180.0,785.7 L180.0,782.7 L179.2,779.8 L177.8,777.2 L176.0,774.8 L174.0,772.6 L171.9,770.5 L169.6,768.5 L167.2,766.8 L164.6,765.3 L161.9,764.0 L159.2,762.6 L156.6,761.1 L154.2,759.3 L152.0,757.3 L150.0,755.1 L148.2,752.7 L146.5,750.2 L145.0,747.6 L143.7,744.9 L142.5,742.1 L141.6,739.3 L141.0,736.4 L140.6,733.4 L140.5,730.4 L140.6,727.4 L140.7,724.4 L140.9,721.4 L141.1,718.4 L141.4,715.4 L141.9,712.5 L142.6,709.5 L143.4,706.6 L144.2,703.8 L145.1,700.9 L146.0,698.0 L147.0,695.2 L148.1,692.4 L149.4,689.7 L150.8,687.0 L152.4,684.5 L154.2,682.1 L156.1,679.8 L158.1,677.6 L160.3,675.6 L162.6,673.7 L165.1,672.0 L167.8,670.6 L170.6,669.7 L173.6,669.3 L176.6,669.4 L179.5,669.7 L182.5,670.2 L185.5,670.7 L188.4,671.2 L191.4,671.8 L194.2,672.6 L197.1,673.5 L200.0,674.4 L202.8,675.3 L205.8,675.9 L208.7,676.3 L211.7,676.0 L214.5,675.1 L217.2,673.7 L219.6,671.9 L221.9,670.0 L223.8,667.7 L225.5,665.2 L226.6,662.5 L226.9,659.5 L226.5,656.6 L225.7,653.7 L224.6,650.9 L223.2,648.3 L221.5,645.8 L219.4,643.7 L217.0,641.9 L214.4,640.3 L211.8,638.9 L209.1,637.6 L206.4,636.2 L203.8,634.8 L201.2,633.4 L198.5,632.0 L195.7,630.8 L193.0,629.5 L190.3,628.3 L187.6,626.9 L185.0,625.4 L182.6,623.6 L180.5,621.5 L178.8,619.1 L177.2,616.5 L176.0,613.8 L175.1,610.9 L174.4,608.0 L174.0,605.0 L174.2,602.0 L174.7,599.1 L175.5,596.2 L176.4,593.4 L177.3,590.5 L178.1,587.6 L178.7,584.6 L179.1,581.7 L179.4,578.7 L179.7,575.7 L179.9,572.7 L180.1,569.7 L180.3,566.7 L180.4,563.7 L180.6,560.7 L180.7,557.7 L180.8,554.7 L180.9,551.7 L181.0,548.7 L181.0,545.7 L181.1,542.7 L181.1,539.7 L181.1,536.7 L181.1,533.7 L181.1,530.7 L181.1,527.7 L181.0,524.7 L181.0,521.7 L180.9,518.7 L180.8,515.7 L180.7,512.7 L180.5,509.7 L180.3,506.7 L180.1,503.7 L179.8,500.8 L179.5,497.8 L179.2,494.8 L178.7,491.8 L178.2,488.9 L177.5,485.9 L176.7,483.0 L175.9,480.2 L175.0,477.3 L174.2,474.4 L173.5,471.5 L172.8,468.6 L172.2,465.6 L171.6,462.7 L171.0,459.8 L170.4,456.8 L169.8,453.9 L169.3,450.9 L168.8,448.0 L168.4,445.0 L168.0,442.0 L167.7,439.0 L167.6,436.0 L167.5,433.0 L167.6,430.0 L167.8,427.0 L168.3,424.1 L169.0,421.2 L170.1,418.4 L171.3,415.6 L172.8,413.0 L174.5,410.6 L176.5,408.3 L178.7,406.4 L181.3,404.8 L183.9,403.4 L186.7,402.3 L189.6,401.3 L192.4,400.5 L195.4,399.9 L198.3,399.5 L201.3,399.0 L204.2,398.4 L207.1,397.4 L209.8,396.2 L212.5,394.9 L215.1,393.4 L217.5,391.6 L219.6,389.4 L221.2,386.9 L222.4,384.2 L223.3,381.4 L223.9,378.4 L224.0,375.4 L223.6,372.5 L222.8,369.6 L221.5,366.9 L220.0,364.3 L218.2,361.9 L216.1,359.8 L213.7,358.0 L211.2,356.4 L208.5,355.1 L205.7,354.1 L202.8,353.3 L199.8,352.9 L196.8,352.9 L193.8,353.0 L190.8,353.1 L187.8,353.3 L184.8,353.5 L181.8,353.6 L178.8,353.7 L175.8,353.9 L172.8,354.1 L169.8,354.2 L166.8,354.4 L163.8,354.4 L160.8,354.3 L157.9,354.0 L154.9,353.5 L152.0,352.8 L149.1,352.0 L146.3,350.9 L143.5,349.7 L140.9,348.3 L138.4,346.6 L136.1,344.7 L134.0,342.6 L132.0,340.3 L130.2,337.9 L128.4,335.5 L126.8,333.0 L125.3,330.4 L123.9,327.7 L122.7,325.0 L121.5,322.2 L120.5,319.4Z" fill="#fefaf9" stroke="#94708f" stroke-width="13" stroke-linejoin="round"/>
<path d="M120.0,318.0 L119.1,315.1 L118.3,312.2 L117.6,309.3 L116.9,306.4 L116.3,303.5 L115.7,300.5 L115.1,297.6 L114.5,294.7 L113.9,291.7 L113.2,288.8 L112.5,285.9 L111.8,283.0 L111.2,280.0 L110.8,277.0 L110.4,274.1 L110.3,271.1 L110.3,268.1 L110.4,265.1 L110.6,262.1 L110.9,259.1 L111.2,256.1 L111.6,253.1 L112.1,250.2 L112.8,247.2 L113.5,244.3 L114.3,241.5 L115.3,238.6 L116.4,235.8 L117.6,233.1 L118.8,230.3 L120.2,227.7 L121.8,225.1 L123.5,222.6 L125.4,220.3 L127.4,218.2 L129.7,216.2 L132.2,214.5 L134.7,212.9 L137.4,211.6 L140.2,210.6 L143.1,209.8 L146.1,209.4 L149.1,209.4 L152.0,209.9 L154.8,210.8 L157.5,212.2 L159.9,213.9 L162.2,215.9 L164.4,217.9 L166.6,220.0 L168.6,222.2 L170.7,224.3 L172.8,226.5 L174.8,228.7 L176.7,231.0 L178.5,233.4 L180.3,235.9 L182.1,238.2 L184.1,240.5 L186.4,242.4 L188.9,244.0 L191.6,245.3 L194.4,246.3 L197.4,247.0 L200.3,247.3 L203.3,247.3 L206.3,246.8 L209.1,245.9 L211.9,244.7 L214.5,243.3 L217.0,241.6 L219.3,239.7 L221.5,237.6 L223.3,235.3 L224.9,232.7 L226.1,230.0 L226.9,227.1 L227.0,224.2 L226.5,221.2 L225.8,218.3 L224.8,215.5 L223.9,212.6 L222.9,209.8 L221.6,207.0 L220.4,204.3 L219.1,201.6 L218.0,198.8 L217.3,195.9 L217.0,192.9 L217.0,190.0 L217.5,187.0 L218.2,184.1 L219.4,181.4 L221.2,178.9 L223.3,176.9 L225.7,175.1 L228.4,173.7 L231.1,172.6 L234.0,171.9 L237.0,171.7 L240.0,171.9 L243.0,172.3 L246.0,172.8 L248.9,173.3 L251.9,173.8 L254.8,174.3 L257.8,174.8 L260.7,175.4 L263.7,176.0 L266.6,176.6 L269.5,177.3 L272.5,178.0 L275.4,178.7 L278.2,179.5 L281.1,180.4 L284.0,181.4 L286.8,182.4 L289.5,183.6 L292.3,184.7 L295.0,186.0 L297.8,187.2 L300.4,188.6 L303.1,190.0 L305.7,191.5 L308.2,193.1 L310.7,194.8 L313.1,196.6 L315.5,198.4 L317.8,200.4 L320.0,202.4 L322.2,204.4 L324.3,206.6 L326.2,208.8 L328.1,211.2 L329.7,213.7 L330.9,216.5 L331.7,219.3 L331.8,222.3 L331.4,225.3 L330.7,228.2 L329.7,231.0 L328.4,233.7 L326.9,236.3 L325.1,238.7 L323.0,240.8 L320.8,242.8 L318.5,244.8 L316.2,246.8 L314.0,248.8 L311.9,250.9 L309.7,252.9 L307.4,254.9 L305.2,256.9 L303.1,259.1 L301.4,261.5 L300.1,264.2 L299.4,267.1 L299.2,270.1 L299.5,273.0 L300.3,275.9 L301.9,278.4 L304.1,280.3 L306.7,281.8 L309.5,282.8 L312.5,283.5 L315.4,283.8 L318.4,283.6 L321.3,282.9 L324.1,281.9 L326.9,280.7 L329.6,279.5 L332.4,278.3 L335.2,277.3 L338.0,276.1 L340.7,274.9 L343.5,273.8 L346.3,272.8 L349.3,272.2 L352.2,271.8 L355.2,271.7 L358.2,271.8 L361.2,272.1 L364.2,272.6 L367.1,273.3 L369.9,274.4 L372.5,275.9 L374.9,277.7 L377.1,279.7 L379.2,281.8 L381.3,284.0 L383.4,286.1 L385.6,288.1 L387.8,290.2 L390.0,292.3 L392.1,294.4 L394.1,296.6 L396.1,298.9 L397.9,301.2 L399.6,303.7 L401.2,306.3 L402.7,308.9 L404.2,311.5 L405.6,314.1 L407.1,316.7 L408.6,319.3 L410.1,321.9 L411.6,324.5 L413.1,327.1 L414.6,329.7 L416.0,332.3 L417.4,335.0 L418.8,337.7 L420.1,340.4 L421.3,343.1 L422.5,345.9 L423.6,348.6 L424.7,351.4 L425.7,354.3 L426.6,357.1 L427.5,360.0 L428.3,362.9 L429.0,365.8 L429.5,368.8 L429.6,371.8 L429.4,374.7 L428.8,377.7 L428.1,380.6 L427.0,383.4 L425.7,386.1 L424.2,388.7 L422.3,391.0 L420.1,393.0 L417.7,394.8 L415.1,396.3 L412.5,397.7 L409.7,398.9 L406.9,400.0 L404.1,401.0 L401.2,401.9 L398.3,402.4 L395.3,402.8 L392.3,403.2 L389.4,403.6 L386.4,404.3 L383.5,405.1 L380.7,405.9 L377.8,406.8 L375.0,407.9 L372.3,409.1 L369.7,410.7 L367.3,412.5 L365.1,414.5 L363.2,416.8 L361.4,419.2 L359.8,421.8 L358.7,424.5 L358.0,427.4 L357.8,430.4 L358.0,433.4 L358.6,436.3 L359.7,439.1 L361.1,441.8 L362.8,444.2 L364.7,446.5 L367.0,448.5 L369.5,450.1 L372.2,451.2 L375.2,451.7 L378.2,451.8 L381.2,451.8 L384.2,451.6 L387.2,451.3 L390.1,450.8 L393.0,450.1 L395.9,449.4 L398.8,448.7 L401.8,448.2 L404.8,448.2 L407.8,448.5 L410.7,449.0 L413.6,449.8 L416.4,450.8 L419.2,452.1 L421.8,453.6 L424.3,455.2 L426.6,457.1 L428.8,459.1 L430.9,461.3 L432.8,463.6 L434.5,466.0 L436.1,468.6 L437.4,471.3 L438.5,474.1 L439.5,476.9 L440.5,479.8 L441.5,482.6 L442.4,485.4 L443.4,488.3 L444.3,491.1 L445.2,494.0 L446.0,496.9 L446.6,499.8 L447.1,502.8 L447.4,505.8 L447.7,508.8 L447.9,511.8 L448.0,514.8 L448.1,517.8 L448.2,520.8 L448.2,523.8 L448.2,526.8 L448.2,529.8 L448.2,532.8 L448.2,535.8 L448.2,538.8 L448.2,541.8 L448.2,544.8 L448.3,547.8 L448.3,550.8 L448.3,553.8 L448.4,556.8 L448.4,559.8 L448.4,562.8 L448.4,565.8 L448.4,568.8 L448.4,571.8 L448.4,574.8 L448.4,577.8 L448.3,580.8 L448.3,583.8 L448.2,586.8 L448.1,589.8 L448.0,592.8 L447.9,595.8 L447.7,598.8 L447.5,601.8 L447.3,604.8 L447.0,607.7 L446.7,610.7 L446.4,613.7 L446.1,616.7 L445.8,619.7 L445.4,622.7 L445.0,625.6 L444.5,628.6 L443.9,631.5 L443.2,634.5 L442.4,637.3 L441.4,640.2 L440.2,642.9 L438.9,645.6 L437.4,648.2 L435.7,650.7 L433.9,653.1 L432.0,655.4 L430.0,657.7 L427.9,659.8 L425.6,661.7 L423.3,663.6 L420.8,665.2 L418.1,666.6 L415.4,667.8 L412.5,668.7 L409.6,669.5 L406.7,670.0 L403.7,670.5 L400.7,670.8 L397.7,671.1 L394.7,671.2 L391.7,671.1 L388.8,670.8 L385.8,670.4 L382.8,669.9 L379.9,669.3 L376.9,668.9 L373.9,668.5 L370.9,668.4 L368.0,668.5 L365.0,669.2 L362.2,670.2 L359.5,671.5 L357.0,673.1 L354.7,675.0 L352.7,677.3 L351.3,679.9 L350.5,682.8 L350.3,685.7 L350.4,688.7 L350.9,691.7 L351.7,694.6 L352.9,697.3 L354.6,699.8 L356.7,701.8 L359.2,703.4 L361.9,704.8 L364.6,706.0 L367.4,707.2 L370.2,708.3 L372.9,709.6 L375.6,710.9 L378.3,712.1 L381.1,713.3 L383.9,714.5 L386.7,715.6 L389.5,716.7 L392.2,717.8 L395.0,719.1 L397.6,720.5 L400.2,722.0 L402.6,723.8 L404.7,725.9 L406.6,728.3 L408.3,730.7 L409.7,733.4 L410.9,736.1 L411.9,738.9 L412.7,741.8 L413.3,744.8 L413.5,747.7 L413.5,750.7 L413.2,753.7 L412.6,756.7 L411.9,759.6 L411.0,762.5 L410.1,765.3 L409.1,768.1 L408.1,770.9 L407.0,773.8 L405.9,776.5 L404.7,779.3 L403.4,782.0 L402.1,784.7 L400.7,787.4 L399.3,790.0 L397.8,792.6 L396.3,795.2 L394.8,797.8 L393.2,800.4 L391.7,803.0 L390.2,805.6 L388.8,808.2 L387.3,810.8 L385.9,813.5 L384.5,816.1 L383.1,818.7 L381.6,821.3 L380.0,823.9 L378.4,826.4 L376.6,828.9 L374.8,831.3 L373.0,833.6 L371.0,835.9 L369.1,838.2 L367.1,840.4 L365.0,842.6 L362.9,844.7 L360.7,846.8 L358.5,848.8 L356.2,850.8 L353.9,852.7 L351.5,854.5 L349.0,856.1 L346.5,857.8 L343.9,859.3 L341.3,860.8 L338.6,862.1 L335.8,863.1 L332.9,863.8 L329.9,864.1 L326.9,863.9 L324.0,863.1 L321.3,862.0 L318.5,860.7 L315.9,859.3 L313.3,857.8 L310.7,856.3 L308.1,854.9 L305.5,853.4 L303.0,851.8 L300.5,850.1 L298.0,848.4 L295.4,846.9 L292.8,845.4 L290.2,843.8 L287.6,842.4 L284.9,841.0 L282.2,839.7 L279.4,838.8 L276.4,838.3 L273.4,838.1 L270.4,838.2 L267.5,838.7 L264.7,839.7 L262.2,841.3 L260.2,843.5 L258.6,846.1 L257.4,848.8 L256.4,851.6 L255.8,854.5 L255.7,857.5 L256.2,860.5 L257.2,863.3 L258.4,866.0 L259.8,868.7 L261.2,871.3 L262.6,874.0 L264.1,876.6 L265.7,879.1 L267.4,881.6 L269.1,884.1 L270.5,886.7 L271.7,889.4 L272.6,892.3 L273.2,895.3 L273.6,898.2 L273.5,901.2 L273.0,904.1 L271.8,906.8 L270.0,909.3 L267.9,911.4 L265.6,913.3 L263.0,914.8 L260.2,915.9 L257.3,916.6 L254.3,916.9 L251.3,917.0 L248.4,916.8 L245.4,916.6 L242.4,916.3 L239.4,915.9 L236.4,915.4 L233.5,914.9 L230.6,914.2 L227.7,913.5 L224.8,912.6 L221.9,911.7 L219.1,910.8 L216.2,909.8 L213.4,908.8 L210.6,907.7 L207.8,906.6 L205.0,905.5 L202.2,904.4 L199.5,903.2 L196.7,902.0 L194.0,900.8 L191.3,899.5 L188.6,898.1 L185.9,896.8 L183.3,895.4 L180.6,893.9 L178.0,892.5 L175.4,891.0 L172.8,889.4 L170.3,887.9 L167.7,886.3 L165.2,884.7 L162.7,883.0 L160.2,881.4 L157.7,879.7 L155.2,878.1 L152.7,876.4 L150.2,874.7 L147.8,873.0 L145.3,871.3 L142.8,869.7 L140.2,868.1 L137.6,866.6 L135.0,865.0 L132.5,863.4 L130.2,861.6 L128.0,859.5 L126.2,857.1 L124.8,854.5 L123.6,851.7 L122.7,848.9 L121.9,845.9 L121.3,843.0 L120.9,840.0 L120.6,837.1 L120.5,834.1 L120.7,831.1 L121.2,828.1 L122.0,825.2 L123.2,822.5 L124.8,819.9 L126.5,817.5 L128.5,815.2 L130.6,813.1 L132.9,811.2 L135.4,809.5 L138.0,808.0 L140.7,806.7 L143.4,805.4 L146.2,804.4 L149.1,803.6 L152.0,802.9 L155.0,802.4 L157.9,801.9 L160.9,801.3 L163.7,800.5 L166.6,799.6 L169.5,798.6 L172.2,797.5 L174.8,796.0 L176.9,794.0 L178.5,791.4 L179.5,788.6 L180.0,785.7 L180.0,782.7 L179.2,779.8 L177.8,777.2 L176.0,774.8 L174.0,772.6 L171.9,770.5 L169.6,768.5 L167.2,766.8 L164.6,765.3 L161.9,764.0 L159.2,762.6 L156.6,761.1 L154.2,759.3 L152.0,757.3 L150.0,755.1 L148.2,752.7 L146.5,750.2 L145.0,747.6 L143.7,744.9 L142.5,742.1 L141.6,739.3 L141.0,736.4 L140.6,733.4 L140.5,730.4 L140.6,727.4 L140.7,724.4 L140.9,721.4 L141.1,718.4 L141.4,715.4 L141.9,712.5 L142.6,709.5 L143.4,706.6 L144.2,703.8 L145.1,700.9 L146.0,698.0 L147.0,695.2 L148.1,692.4 L149.4,689.7 L150.8,687.0 L152.4,684.5 L154.2,682.1 L156.1,679.8 L158.1,677.6 L160.3,675.6 L162.6,673.7 L165.1,672.0 L167.8,670.6 L170.6,669.7 L173.6,669.3 L176.6,669.4 L179.5,669.7 L182.5,670.2 L185.5,670.7 L188.4,671.2 L191.4,671.8 L194.2,672.6 L197.1,673.5 L200.0,674.4 L202.8,675.3 L205.8,675.9 L208.7,676.3 L211.7,676.0 L214.5,675.1 L217.2,673.7 L219.6,671.9 L221.9,670.0 L223.8,667.7 L225.5,665.2 L226.6,662.5 L226.9,659.5 L226.5,656.6 L225.7,653.7 L224.6,650.9 L223.2,648.3 L221.5,645.8 L219.4,643.7 L217.0,641.9 L214.4,640.3 L211.8,638.9 L209.1,637.6 L206.4,636.2 L203.8,634.8 L201.2,633.4 L198.5,632.0 L195.7,630.8 L193.0,629.5 L190.3,628.3 L187.6,626.9 L185.0,625.4 L182.6,623.6 L180.5,621.5 L178.8,619.1 L177.2,616.5 L176.0,613.8 L175.1,610.9 L174.4,608.0 L174.0,605.0 L174.2,602.0 L174.7,599.1 L175.5,596.2 L176.4,593.4 L177.3,590.5 L178.1,587.6 L178.7,584.6 L179.1,581.7 L179.4,578.7 L179.7,575.7 L179.9,572.7 L180.1,569.7 L180.3,566.7 L180.4,563.7 L180.6,560.7 L180.7,557.7 L180.8,554.7 L180.9,551.7 L181.0,548.7 L181.0,545.7 L181.1,542.7 L181.1,539.7 L181.1,536.7 L181.1,533.7 L181.1,530.7 L181.1,527.7 L181.0,524.7 L181.0,521.7 L180.9,518.7 L180.8,515.7 L180.7,512.7 L180.5,509.7 L180.3,506.7 L180.1,503.7 L179.8,500.8 L179.5,497.8 L179.2,494.8 L178.7,491.8 L178.2,488.9 L177.5,485.9 L176.7,483.0 L175.9,480.2 L175.0,477.3 L174.2,474.4 L173.5,471.5 L172.8,468.6 L172.2,465.6 L171.6,462.7 L171.0,459.8 L170.4,456.8 L169.8,453.9 L169.3,450.9 L168.8,448.0 L168.4,445.0 L168.0,442.0 L167.7,439.0 L167.6,436.0 L167.5,433.0 L167.6,430.0 L167.8,427.0 L168.3,424.1 L169.0,421.2 L170.1,418.4 L171.3,415.6 L172.8,413.0 L174.5,410.6 L176.5,408.3 L178.7,406.4 L181.3,404.8 L183.9,403.4 L186.7,402.3 L189.6,401.3 L192.4,400.5 L195.4,399.9 L198.3,399.5 L201.3,399.0 L204.2,398.4 L207.1,397.4 L209.8,396.2 L212.5,394.9 L215.1,393.4 L217.5,391.6 L219.6,389.4 L221.2,386.9 L222.4,384.2 L223.3,381.4 L223.9,378.4 L224.0,375.4 L223.6,372.5 L222.8,369.6 L221.5,366.9 L220.0,364.3 L218.2,361.9 L216.1,359.8 L213.7,358.0 L211.2,356.4 L208.5,355.1 L205.7,354.1 L202.8,353.3 L199.8,352.9 L196.8,352.9 L193.8,353.0 L190.8,353.1 L187.8,353.3 L184.8,353.5 L181.8,353.6 L178.8,353.7 L175.8,353.9 L172.8,354.1 L169.8,354.2 L166.8,354.4 L163.8,354.4 L160.8,354.3 L157.9,354.0 L154.9,353.5 L152.0,352.8 L149.1,352.0 L146.3,350.9 L143.5,349.7 L140.9,348.3 L138.4,346.6 L136.1,344.7 L134.0,342.6 L132.0,340.3 L130.2,337.9 L128.4,335.5 L126.8,333.0 L125.3,330.4 L123.9,327.7 L122.7,325.0 L121.5,322.2 L120.5,319.4Z" fill="none" stroke="#cf9fc9" stroke-width="7.2"/>
<path d="M570.4,525.0 L570.5,522.1 L570.7,519.2 L570.9,516.3 L571.2,513.4 L571.4,510.5 L571.7,507.6 L572.0,504.8 L572.3,501.9 L572.6,499.0 L573.0,496.1 L573.3,493.3 L573.7,490.4 L574.1,487.5 L574.5,484.7 L575.0,481.8 L575.5,479.0 L576.0,476.1 L576.5,473.3 L577.0,470.4 L577.5,467.6 L578.1,464.8 L578.7,462.0 L579.3,459.1 L579.9,456.3 L580.5,453.5 L581.2,450.7 L581.9,447.9 L582.5,445.1 L583.3,442.3 L584.0,439.5 L584.7,436.7 L585.5,434.0 L586.3,431.2 L587.1,428.4 L587.9,425.6 L588.7,422.9 L589.5,420.1 L590.4,417.4 L591.3,414.6 L592.2,411.9 L593.1,409.1 L594.0,406.4 L594.9,403.6 L595.9,400.9 L596.9,398.2 L597.8,395.5 L598.8,392.7 L599.9,390.0 L600.9,387.3 L601.9,384.6 L603.0,381.9 L604.1,379.2 L605.1,376.5 L606.2,373.8 L607.4,371.1 L608.5,368.4 L609.6,365.7 L610.8,363.0 L612.0,360.3 L613.1,357.7 L614.3,355.0 L615.6,352.3 L616.8,349.6 L618.0,346.9 L619.3,344.3 L620.6,341.6 L621.8,338.9 L623.1,336.2 L624.4,333.6 L625.8,330.9 L627.1,328.2 L628.5,325.5 L629.8,322.9 L631.2,320.2 L632.6,317.5 L634.0,314.9 L635.5,312.2 L636.9,309.5 L638.4,306.9 L639.9,304.2 L641.4,301.5 L642.9,298.9 L644.4,296.2 L645.9,293.5 L647.5,290.9 L649.1,288.2 L650.7,285.5 L652.3,282.9 L653.9,280.2 L655.6,277.6 L657.2,274.9 L658.9,272.2 L660.6,269.6 L662.3,266.9 L664.1,264.3 L665.9,261.6 L667.6,259.0 L669.5,256.3 L671.3,253.7 L673.1,251.1 L675.0,248.4 L676.9,245.8 L678.8,243.2 L680.8,240.6 L682.7,237.9 L684.7,235.3 L686.7,232.7 L688.8,230.1 L690.8,227.5 L692.9,225.0 L695.0,222.4 L697.2,219.8 L699.3,217.3 L701.5,214.7 L703.7,212.2 L706.0,209.7 L708.2,207.2 L710.5,204.7 L712.8,202.2 L715.2,199.7 L717.6,197.2 L720.0,194.8 L722.4,192.4 L724.9,190.0 L727.4,187.6 L729.9,185.2 L732.4,182.9 L735.0,180.5 L737.6,178.2 L740.2,175.9 L742.9,173.6 L745.6,171.4 L748.3,169.2 L751.0,167.0 L753.8,164.8 L756.6,162.7 L759.4,160.5 L762.3,158.5 L765.2,156.4 L768.1,154.4 L771.0,152.4 L774.0,150.4 L777.0,148.5 L780.0,146.5 L783.1,144.7 L786.2,142.8 L789.3,141.0 L792.4,139.3 L795.6,137.6 L798.7,135.9 L801.9,134.2 L805.2,132.6 L808.4,131.0 L811.7,129.5 L815.0,128.0 L818.3,126.6 L821.7,125.2 L825.0,123.8 L828.4,122.5 L831.8,121.2 L835.2,120.0 L838.7,118.8 L842.1,117.7 L845.6,116.6 L849.1,115.6 L852.6,114.6 L856.1,113.7 L859.7,112.8 L863.2,111.9 L866.8,111.1 L870.4,110.4 L874.0,109.7 L877.6,109.1 L881.2,108.5 L884.8,108.0 L888.4,107.5 L892.1,107.1 L895.7,106.7 L899.3,106.4 L903.0,106.1 L906.7,105.9 L910.3,105.7 L914.0,105.6 L917.6,105.6 L921.3,105.6 L925.0,105.6 L928.6,105.7 L932.3,105.9 L936.0,106.1 L939.6,106.4 L943.3,106.7 L946.9,107.1 L950.6,107.5 L954.2,108.0 L957.8,108.5 L961.5,109.1 L965.1,109.7 L968.7,110.4 L972.3,111.1 L975.8,111.9 L979.4,112.7 L983.0,113.6 L986.5,114.6 L990.0,115.5 L993.5,116.6 L997.0,117.7 L1000.5,118.8 L1004.0,120.0 L1007.4,121.2 L1010.9,122.4 L1014.3,123.8 L1017.7,125.1 L1021.0,126.5 L1024.4,128.0 L1027.7,129.4 L1031.0,131.0 L1034.3,132.5 L1037.6,134.1 L1040.8,135.8 L1044.0,137.5 L1047.2,139.2 L1050.4,141.0 L1053.6,142.8 L1056.7,144.6 L1059.8,146.5 L1062.9,148.4 L1065.9,150.3 L1068.9,152.3 L1071.9,154.3 L1074.9,156.4 L1077.8,158.5 L1080.7,160.6 L1083.6,162.7 L1086.5,164.9 L1089.3,167.1 L1092.1,169.3 L1094.9,171.5 L1097.7,173.8 L1100.4,176.1 L1103.1,178.5 L1105.7,180.8 L1108.4,183.2 L1111.0,185.6 L1113.6,188.0 L1116.1,190.5 L1118.6,192.9 L1121.1,195.4 L1123.6,197.9 L1126.0,200.5 L1128.5,203.0 L1130.8,205.6 L1133.2,208.2 L1135.5,210.8 L1137.8,213.4 L1140.1,216.0 L1142.3,218.7 L1144.5,221.4 L1146.7,224.0 L1148.9,226.7 L1151.0,229.5 L1153.1,232.2 L1155.2,234.9 L1157.2,237.7 L1159.2,240.4 L1161.2,243.2 L1163.2,246.0 L1165.1,248.8 L1167.0,251.6 L1168.9,254.4 L1170.7,257.3 L1172.6,260.1 L1174.4,263.0 L1176.1,265.8 L1177.9,268.7 L1179.6,271.6 L1181.3,274.4 L1182.9,277.3 L1184.6,280.2 L1186.2,283.1 L1187.8,286.1 L1189.3,289.0 L1190.9,291.9 L1192.4,294.8 L1193.8,297.8 L1195.3,300.7 L1196.7,303.7 L1198.1,306.6 L1199.5,309.6 L1200.8,312.5 L1202.2,315.5 L1203.5,318.5 L1204.7,321.5 L1206.0,324.5 L1207.2,327.4 L1208.4,330.4 L1209.6,333.4 L1210.7,336.4 L1211.8,339.4 L1212.9,342.4 L1214.0,345.4 L1215.0,348.5 L1216.1,351.5 L1217.1,354.5 L1218.0,357.5 L1219.0,360.5 L1219.9,363.5 L1220.8,366.6 L1221.6,369.6 L1222.5,372.6 L1223.3,375.6 L1224.1,378.7 L1224.9,381.7 L1225.6,384.7 L1226.3,387.8 L1227.0,390.8 L1227.7,393.8 L1228.3,396.9 L1228.9,399.9 L1229.5,402.9 L1230.1,405.9 L1230.6,409.0 L1231.2,412.0 L1231.7,415.0 L1232.1,418.1 L1232.6,421.1 L1233.0,424.1 L1233.4,427.1 L1233.8,430.1 L1234.1,433.2 L1234.5,436.2 L1234.8,439.2 L1235.0,442.2 L1235.3,445.2 L1235.5,448.2 L1235.7,451.2 L1235.9,454.2 L1236.1,457.2 L1236.2,460.2 L1236.4,463.2 L1236.5,466.2 L1236.5,469.2 L1236.6,472.2 L1236.6,475.1 L1236.6,478.1 L1236.6,481.1 L1236.6,484.0 L1236.6,487.0 L1236.5,489.9 L1236.4,492.9 L1236.3,495.8 L1236.1,498.8 L1236.0,501.7 L1235.8,504.6 L1235.6,507.6 L1235.4,510.5 L1235.2,513.4 L1235.0,516.3 L1234.7,519.2 L1234.4,522.1 L1234.1,525.0 L1233.8,527.9 L1233.5,530.8 L1233.1,533.6 L1232.7,536.5 L1232.4,539.4 L1232.0,542.2 L1231.5,545.1 L1231.1,547.9 L1230.7,550.8 L1230.2,553.6 L1229.7,556.5 L1229.3,559.3 L1228.8,562.1 L1228.2,564.9 L1227.7,567.7 L1227.2,570.6 L1226.6,573.4 L1226.0,576.2 L1225.5,579.0 L1224.9,581.8 L1224.3,584.5 L1223.6,587.3 L1223.0,590.1 L1222.4,592.9 L1221.7,595.7 L1221.1,598.4 L1220.4,601.2 L1219.7,604.0 L1219.0,606.7 L1218.3,609.5 L1217.6,612.2 L1216.8,615.0 L1216.1,617.7 L1215.4,620.5 L1214.6,623.2 L1213.8,626.0 L1213.0,628.7 L1212.3,631.5 L1211.5,634.2 L1210.6,637.0 L1209.8,639.7 L1209.0,642.5 L1208.2,645.2 L1207.3,647.9 L1206.4,650.7 L1205.6,653.4 L1204.7,656.2 L1203.8,658.9 L1202.9,661.7 L1202.0,664.4 L1201.1,667.2 L1200.1,669.9 L1199.2,672.7 L1198.2,675.4 L1197.2,678.2 L1196.3,680.9 L1195.3,683.7 L1194.3,686.4 L1193.2,689.2 L1192.2,692.0 L1191.2,694.7 L1190.1,697.5 L1189.0,700.3 L1187.9,703.0 L1186.8,705.8 L1185.7,708.6 L1184.6,711.4 L1183.4,714.2 L1182.3,716.9 L1181.1,719.7 L1179.9,722.5 L1178.7,725.3 L1177.5,728.1 L1176.2,730.9 L1175.0,733.7 L1173.7,736.5 L1172.4,739.3 L1171.1,742.1 L1169.8,744.9 L1168.4,747.7 L1167.0,750.5 L1165.6,753.3 L1164.2,756.1 L1162.8,758.9 L1161.3,761.7 L1159.8,764.5 L1158.3,767.3 L1156.8,770.1 L1155.3,772.9 L1153.7,775.7 L1152.1,778.5 L1150.5,781.3 L1148.8,784.1 L1147.2,786.8 L1145.5,789.6 L1143.8,792.4 L1142.0,795.1 L1140.2,797.9 L1138.4,800.7 L1136.6,803.4 L1134.8,806.1 L1132.9,808.9 L1131.0,811.6 L1129.0,814.3 L1127.1,817.0 L1125.1,819.7 L1123.1,822.4 L1121.0,825.1 L1118.9,827.7 L1116.8,830.4 L1114.7,833.0 L1112.5,835.6 L1110.3,838.2 L1108.1,840.8 L1105.8,843.4 L1103.5,845.9 L1101.2,848.5 L1098.9,851.0 L1096.5,853.5 L1094.1,856.0 L1091.6,858.4 L1089.2,860.9 L1086.7,863.3 L1084.1,865.7 L1081.6,868.0 L1079.0,870.4 L1076.4,872.7 L1073.7,875.0 L1071.0,877.3 L1068.3,879.5 L1065.6,881.7 L1062.8,883.9 L1060.0,886.1 L1057.2,888.2 L1054.3,890.3 L1051.4,892.4 L1048.5,894.4 L1045.6,896.4 L1042.6,898.4 L1039.6,900.3 L1036.6,902.2 L1033.5,904.1 L1030.5,905.9 L1027.3,907.7 L1024.2,909.5 L1021.1,911.2 L1017.9,912.9 L1014.7,914.5 L1011.5,916.1 L1008.2,917.7 L1004.9,919.2 L1001.7,920.7 L998.3,922.1 L995.0,923.5 L991.6,924.8 L988.3,926.2 L984.9,927.4 L981.5,928.6 L978.0,929.8 L974.6,930.9 L971.1,932.0 L967.6,933.1 L964.1,934.1 L960.6,935.0 L957.1,935.9 L953.6,936.7 L950.0,937.5 L946.4,938.3 L942.9,939.0 L939.3,939.7 L935.7,940.3 L932.1,940.8 L928.5,941.3 L924.8,941.8 L921.2,942.2 L917.6,942.6 L913.9,942.9 L910.3,943.1 L906.7,943.3 L903.0,943.5 L899.3,943.6 L895.7,943.7 L892.0,943.7 L888.4,943.6 L884.7,943.5 L881.1,943.4 L877.4,943.2 L873.8,942.9 L870.1,942.6 L866.5,942.3 L862.9,941.9 L859.2,941.4 L855.6,941.0 L852.0,940.4 L848.4,939.8 L844.8,939.2 L841.2,938.5 L837.6,937.7 L834.1,937.0 L830.5,936.1 L827.0,935.2 L823.4,934.3 L819.9,933.3 L816.4,932.3 L812.9,931.2 L809.5,930.1 L806.0,929.0 L802.6,927.8 L799.2,926.5 L795.8,925.2 L792.4,923.9 L789.0,922.5 L785.7,921.1 L782.4,919.6 L779.1,918.1 L775.8,916.6 L772.5,915.0 L769.3,913.3 L766.1,911.7 L762.9,910.0 L759.7,908.2 L756.6,906.5 L753.5,904.6 L750.4,902.8 L747.3,900.9 L744.3,899.0 L741.2,897.0 L738.3,895.0 L735.3,893.0 L732.4,890.9 L729.4,888.9 L726.6,886.7 L723.7,884.6 L720.9,882.4 L718.1,880.2 L715.3,878.0 L712.6,875.7 L709.9,873.4 L707.2,871.1 L704.5,868.7 L701.9,866.4 L699.3,864.0 L696.8,861.6 L694.2,859.1 L691.7,856.6 L689.2,854.2 L686.8,851.6 L684.4,849.1 L682.0,846.6 L679.6,844.0 L677.3,841.4 L675.0,838.8 L672.7,836.2 L670.5,833.5 L668.3,830.9 L666.1,828.2 L664.0,825.5 L661.8,822.8 L659.7,820.1 L657.7,817.4 L655.7,814.6 L653.6,811.8 L651.7,809.1 L649.7,806.3 L647.8,803.5 L645.9,800.7 L644.0,797.9 L642.2,795.1 L640.4,792.2 L638.6,789.4 L636.9,786.5 L635.1,783.7 L633.4,780.8 L631.8,777.9 L630.1,775.1 L628.5,772.2 L626.9,769.3 L625.3,766.4 L623.8,763.5 L622.3,760.6 L620.8,757.7 L619.3,754.7 L617.9,751.8 L616.4,748.9 L615.0,746.0 L613.7,743.0 L612.3,740.1 L611.0,737.2 L609.7,734.2 L608.4,731.3 L607.2,728.3 L605.9,725.4 L604.7,722.4 L603.5,719.5 L602.4,716.5 L601.2,713.6 L600.1,710.6 L599.0,707.6 L597.9,704.7 L596.9,701.7 L595.9,698.8 L594.8,695.8 L593.9,692.9 L592.9,689.9 L591.9,686.9 L591.0,684.0 L590.1,681.0 L589.2,678.0 L588.3,675.1 L587.5,672.1 L586.7,669.2 L585.9,666.2 L585.1,663.2 L584.3,660.3 L583.6,657.3 L582.8,654.4 L582.1,651.4 L581.4,648.4 L580.8,645.5 L580.1,642.5 L579.5,639.6 L578.9,636.6 L578.3,633.7 L577.7,630.7 L577.2,627.7 L576.6,624.8 L576.1,621.8 L575.6,618.9 L575.1,615.9 L574.7,613.0 L574.3,610.0 L573.8,607.1 L573.4,604.1 L573.1,601.2 L572.7,598.2 L572.4,595.3 L572.1,592.3 L571.8,589.4 L571.5,586.4 L571.2,583.5 L571.0,580.6 L570.8,577.6 L570.6,574.7 L570.4,571.7 L570.3,568.8 L570.1,565.9 L570.0,562.9 L569.9,560.0 L569.8,557.1 L569.8,554.2 L569.7,551.2 L569.7,548.3 L569.7,545.4 L569.8,542.5 L569.8,539.5 L569.9,536.6 L570.0,533.7 L570.1,530.8 L570.2,527.9Z" fill="#ce9e12"/>
<path d="M582.5,525.7 L582.7,522.9 L582.9,520.0 L583.1,517.2 L583.3,514.4 L583.6,511.6 L583.8,508.8 L584.1,506.0 L584.4,503.2 L584.7,500.4 L585.1,497.6 L585.4,494.9 L585.8,492.1 L586.2,489.3 L586.7,486.5 L587.1,483.8 L587.6,481.0 L588.0,478.2 L588.5,475.5 L589.1,472.7 L589.6,470.0 L590.2,467.2 L590.7,464.5 L591.3,461.7 L591.9,459.0 L592.6,456.3 L593.2,453.6 L593.9,450.8 L594.6,448.1 L595.3,445.4 L596.0,442.7 L596.7,440.0 L597.5,437.3 L598.3,434.6 L599.1,431.9 L599.9,429.2 L600.7,426.5 L601.5,423.8 L602.4,421.1 L603.2,418.5 L604.1,415.8 L605.0,413.1 L606.0,410.5 L606.9,407.8 L607.8,405.1 L608.8,402.5 L609.8,399.8 L610.8,397.2 L611.8,394.5 L612.8,391.9 L613.9,389.2 L614.9,386.6 L616.0,384.0 L617.1,381.3 L618.2,378.7 L619.3,376.1 L620.4,373.4 L621.6,370.8 L622.7,368.2 L623.9,365.6 L625.1,363.0 L626.3,360.3 L627.5,357.7 L628.7,355.1 L630.0,352.5 L631.2,349.9 L632.5,347.3 L633.8,344.7 L635.1,342.1 L636.4,339.4 L637.7,336.8 L639.0,334.2 L640.4,331.6 L641.8,329.0 L643.1,326.4 L644.5,323.8 L646.0,321.2 L647.4,318.6 L648.8,316.0 L650.3,313.4 L651.8,310.8 L653.2,308.2 L654.8,305.6 L656.3,303.0 L657.8,300.5 L659.4,297.9 L660.9,295.3 L662.5,292.7 L664.1,290.1 L665.7,287.5 L667.4,284.9 L669.0,282.4 L670.7,279.8 L672.4,277.2 L674.1,274.6 L675.8,272.1 L677.6,269.5 L679.4,266.9 L681.1,264.4 L682.9,261.8 L684.8,259.3 L686.6,256.7 L688.5,254.2 L690.4,251.7 L692.3,249.1 L694.2,246.6 L696.2,244.1 L698.1,241.6 L700.1,239.1 L702.2,236.6 L704.2,234.2 L706.3,231.7 L708.3,229.2 L710.5,226.8 L712.6,224.3 L714.8,221.9 L716.9,219.5 L719.1,217.1 L721.4,214.7 L723.6,212.3 L725.9,210.0 L728.2,207.6 L730.5,205.3 L732.9,203.0 L735.3,200.7 L737.7,198.4 L740.1,196.2 L742.6,194.0 L745.1,191.7 L747.6,189.5 L750.1,187.4 L752.7,185.2 L755.2,183.1 L757.8,181.0 L760.5,178.9 L763.1,176.9 L765.8,174.8 L768.5,172.8 L771.3,170.9 L774.0,168.9 L776.8,167.0 L779.6,165.1 L782.5,163.3 L785.3,161.5 L788.2,159.7 L791.1,157.9 L794.0,156.2 L797.0,154.5 L799.9,152.9 L802.9,151.3 L806.0,149.7 L809.0,148.1 L812.1,146.6 L815.1,145.2 L818.2,143.7 L821.3,142.4 L824.5,141.0 L827.6,139.7 L830.8,138.4 L834.0,137.2 L837.2,136.0 L840.4,134.9 L843.7,133.8 L846.9,132.8 L850.2,131.8 L853.5,130.8 L856.8,129.9 L860.1,129.0 L863.4,128.2 L866.8,127.4 L870.1,126.7 L873.5,126.0 L876.8,125.4 L880.2,124.8 L883.6,124.3 L887.0,123.8 L890.4,123.3 L893.8,122.9 L897.2,122.6 L900.6,122.3 L904.0,122.1 L907.5,121.9 L910.9,121.7 L914.3,121.6 L917.8,121.6 L921.2,121.6 L924.6,121.7 L928.1,121.8 L931.5,121.9 L934.9,122.1 L938.3,122.4 L941.8,122.7 L945.2,123.0 L948.6,123.4 L952.0,123.9 L955.4,124.4 L958.8,124.9 L962.2,125.5 L965.6,126.1 L968.9,126.8 L972.3,127.6 L975.6,128.3 L979.0,129.2 L982.3,130.0 L985.6,131.0 L988.9,131.9 L992.2,132.9 L995.5,134.0 L998.7,135.1 L1002.0,136.2 L1005.2,137.4 L1008.4,138.7 L1011.6,139.9 L1014.8,141.2 L1018.0,142.6 L1021.1,144.0 L1024.3,145.4 L1027.4,146.9 L1030.4,148.4 L1033.5,149.9 L1036.6,151.5 L1039.6,153.2 L1042.6,154.8 L1045.6,156.5 L1048.5,158.2 L1051.5,160.0 L1054.4,161.8 L1057.3,163.6 L1060.2,165.5 L1063.0,167.4 L1065.9,169.3 L1068.7,171.3 L1071.4,173.3 L1074.2,175.3 L1076.9,177.4 L1079.6,179.4 L1082.3,181.5 L1085.0,183.7 L1087.6,185.8 L1090.2,188.0 L1092.8,190.2 L1095.3,192.5 L1097.9,194.7 L1100.4,197.0 L1102.8,199.3 L1105.3,201.6 L1107.7,204.0 L1110.1,206.4 L1112.5,208.8 L1114.8,211.2 L1117.2,213.6 L1119.5,216.0 L1121.7,218.5 L1124.0,221.0 L1126.2,223.5 L1128.4,226.0 L1130.5,228.5 L1132.7,231.1 L1134.8,233.7 L1136.9,236.2 L1138.9,238.8 L1141.0,241.4 L1143.0,244.1 L1144.9,246.7 L1146.9,249.3 L1148.8,252.0 L1150.7,254.7 L1152.6,257.3 L1154.5,260.0 L1156.3,262.7 L1158.1,265.5 L1159.9,268.2 L1161.6,270.9 L1163.3,273.7 L1165.0,276.4 L1166.7,279.2 L1168.4,281.9 L1170.0,284.7 L1171.6,287.5 L1173.1,290.3 L1174.7,293.1 L1176.2,295.9 L1177.7,298.7 L1179.2,301.5 L1180.6,304.4 L1182.0,307.2 L1183.4,310.0 L1184.8,312.9 L1186.2,315.7 L1187.5,318.6 L1188.8,321.4 L1190.0,324.3 L1191.3,327.2 L1192.5,330.0 L1193.7,332.9 L1194.9,335.8 L1196.0,338.7 L1197.2,341.5 L1198.3,344.4 L1199.3,347.3 L1200.4,350.2 L1201.4,353.1 L1202.4,356.0 L1203.4,358.9 L1204.3,361.8 L1205.3,364.7 L1206.2,367.6 L1207.0,370.6 L1207.9,373.5 L1208.7,376.4 L1209.5,379.3 L1210.3,382.2 L1211.1,385.1 L1211.8,388.1 L1212.5,391.0 L1213.2,393.9 L1213.8,396.8 L1214.5,399.7 L1215.1,402.7 L1215.7,405.6 L1216.2,408.5 L1216.8,411.4 L1217.3,414.3 L1217.8,417.2 L1218.2,420.2 L1218.7,423.1 L1219.1,426.0 L1219.5,428.9 L1219.9,431.8 L1220.2,434.7 L1220.6,437.6 L1220.9,440.5 L1221.1,443.5 L1221.4,446.4 L1221.6,449.3 L1221.9,452.2 L1222.0,455.1 L1222.2,457.9 L1222.4,460.8 L1222.5,463.7 L1222.6,466.6 L1222.7,469.5 L1222.7,472.4 L1222.8,475.2 L1222.8,478.1 L1222.8,481.0 L1222.8,483.8 L1222.7,486.7 L1222.7,489.6 L1222.6,492.4 L1222.5,495.3 L1222.3,498.1 L1222.2,501.0 L1222.0,503.8 L1221.9,506.6 L1221.7,509.5 L1221.4,512.3 L1221.2,515.1 L1220.9,517.9 L1220.7,520.7 L1220.4,523.5 L1220.1,526.3 L1219.8,529.1 L1219.4,531.9 L1219.1,534.7 L1218.7,537.5 L1218.3,540.3 L1217.9,543.1 L1217.5,545.9 L1217.0,548.6 L1216.6,551.4 L1216.1,554.1 L1215.6,556.9 L1215.1,559.7 L1214.6,562.4 L1214.1,565.2 L1213.6,567.9 L1213.0,570.6 L1212.5,573.4 L1211.9,576.1 L1211.3,578.8 L1210.7,581.6 L1210.1,584.3 L1209.5,587.0 L1208.8,589.7 L1208.2,592.4 L1207.5,595.2 L1206.8,597.9 L1206.2,600.6 L1205.5,603.3 L1204.8,606.0 L1204.0,608.7 L1203.3,611.4 L1202.6,614.1 L1201.8,616.8 L1201.1,619.5 L1200.3,622.2 L1199.5,624.9 L1198.7,627.6 L1197.9,630.3 L1197.1,633.0 L1196.3,635.6 L1195.5,638.3 L1194.6,641.0 L1193.8,643.7 L1192.9,646.4 L1192.0,649.1 L1191.2,651.8 L1190.3,654.5 L1189.4,657.2 L1188.5,659.9 L1187.5,662.6 L1186.6,665.3 L1185.6,668.0 L1184.7,670.7 L1183.7,673.4 L1182.7,676.1 L1181.7,678.8 L1180.7,681.5 L1179.7,684.2 L1178.7,686.9 L1177.6,689.6 L1176.6,692.3 L1175.5,695.0 L1174.4,697.7 L1173.3,700.4 L1172.2,703.2 L1171.1,705.9 L1170.0,708.6 L1168.8,711.3 L1167.6,714.0 L1166.5,716.7 L1165.3,719.4 L1164.0,722.2 L1162.8,724.9 L1161.6,727.6 L1160.3,730.3 L1159.0,733.0 L1157.7,735.8 L1156.4,738.5 L1155.0,741.2 L1153.7,743.9 L1152.3,746.6 L1150.9,749.3 L1149.5,752.0 L1148.1,754.8 L1146.6,757.5 L1145.1,760.2 L1143.6,762.9 L1142.1,765.6 L1140.6,768.3 L1139.0,771.0 L1137.4,773.6 L1135.8,776.3 L1134.2,779.0 L1132.6,781.7 L1130.9,784.3 L1129.2,787.0 L1127.4,789.6 L1125.7,792.3 L1123.9,794.9 L1122.1,797.5 L1120.3,800.1 L1118.4,802.7 L1116.6,805.3 L1114.7,807.9 L1112.7,810.5 L1110.8,813.1 L1108.8,815.6 L1106.8,818.1 L1104.8,820.7 L1102.7,823.2 L1100.6,825.7 L1098.5,828.1 L1096.4,830.6 L1094.2,833.0 L1092.0,835.5 L1089.8,837.9 L1087.5,840.3 L1085.2,842.6 L1082.9,845.0 L1080.6,847.3 L1078.2,849.6 L1075.8,851.9 L1073.4,854.2 L1071.0,856.4 L1068.5,858.7 L1066.0,860.9 L1063.4,863.0 L1060.9,865.2 L1058.3,867.3 L1055.7,869.4 L1053.1,871.4 L1050.4,873.5 L1047.7,875.5 L1045.0,877.5 L1042.3,879.4 L1039.5,881.3 L1036.7,883.2 L1033.9,885.1 L1031.0,886.9 L1028.2,888.7 L1025.3,890.4 L1022.4,892.2 L1019.5,893.8 L1016.5,895.5 L1013.5,897.1 L1010.5,898.7 L1007.5,900.2 L1004.4,901.7 L1001.4,903.2 L998.3,904.6 L995.2,906.0 L992.1,907.4 L988.9,908.7 L985.8,909.9 L982.6,911.2 L979.4,912.3 L976.2,913.5 L972.9,914.6 L969.7,915.7 L966.4,916.7 L963.2,917.6 L959.9,918.6 L956.6,919.5 L953.2,920.3 L949.9,921.1 L946.6,921.9 L943.2,922.6 L939.9,923.2 L936.5,923.9 L933.1,924.4 L929.7,925.0 L926.3,925.4 L922.9,925.9 L919.5,926.3 L916.1,926.6 L912.7,926.9 L909.3,927.1 L905.9,927.3 L902.4,927.5 L899.0,927.6 L895.6,927.7 L892.1,927.7 L888.7,927.6 L885.3,927.6 L881.8,927.4 L878.4,927.3 L875.0,927.0 L871.5,926.8 L868.1,926.5 L864.7,926.1 L861.3,925.7 L857.9,925.2 L854.5,924.7 L851.1,924.2 L847.7,923.6 L844.3,923.0 L840.9,922.3 L837.6,921.6 L834.2,920.8 L830.9,920.0 L827.6,919.1 L824.2,918.2 L820.9,917.3 L817.6,916.3 L814.4,915.2 L811.1,914.2 L807.9,913.0 L804.6,911.9 L801.4,910.7 L798.2,909.4 L795.0,908.1 L791.8,906.8 L788.7,905.5 L785.6,904.1 L782.5,902.6 L779.4,901.1 L776.3,899.6 L773.2,898.1 L770.2,896.5 L767.2,894.8 L764.2,893.2 L761.2,891.5 L758.3,889.7 L755.4,888.0 L752.5,886.2 L749.6,884.3 L746.7,882.4 L743.9,880.5 L741.1,878.6 L738.3,876.6 L735.6,874.7 L732.8,872.6 L730.1,870.6 L727.5,868.5 L724.8,866.4 L722.2,864.2 L719.6,862.1 L717.0,859.9 L714.4,857.7 L711.9,855.4 L709.4,853.2 L706.9,850.9 L704.5,848.6 L702.1,846.2 L699.7,843.9 L697.3,841.5 L695.0,839.1 L692.7,836.7 L690.4,834.2 L688.2,831.7 L685.9,829.3 L683.7,826.8 L681.6,824.3 L679.4,821.7 L677.3,819.2 L675.2,816.6 L673.1,814.0 L671.1,811.4 L669.1,808.8 L667.1,806.2 L665.2,803.6 L663.2,800.9 L661.3,798.2 L659.4,795.6 L657.6,792.9 L655.8,790.2 L654.0,787.5 L652.2,784.8 L650.5,782.0 L648.7,779.3 L647.0,776.5 L645.4,773.8 L643.7,771.0 L642.1,768.3 L640.5,765.5 L638.9,762.7 L637.4,759.9 L635.9,757.1 L634.4,754.3 L632.9,751.5 L631.4,748.7 L630.0,745.9 L628.6,743.0 L627.2,740.2 L625.9,737.4 L624.5,734.5 L623.2,731.7 L621.9,728.8 L620.7,726.0 L619.4,723.2 L618.2,720.3 L617.0,717.4 L615.8,714.6 L614.7,711.7 L613.5,708.9 L612.4,706.0 L611.3,703.1 L610.3,700.3 L609.2,697.4 L608.2,694.5 L607.2,691.6 L606.2,688.8 L605.2,685.9 L604.3,683.0 L603.3,680.1 L602.4,677.3 L601.5,674.4 L600.7,671.5 L599.8,668.6 L599.0,665.8 L598.2,662.9 L597.4,660.0 L596.6,657.1 L595.9,654.2 L595.1,651.4 L594.4,648.5 L593.7,645.6 L593.1,642.7 L592.4,639.9 L591.8,637.0 L591.2,634.1 L590.6,631.2 L590.0,628.4 L589.5,625.5 L588.9,622.6 L588.4,619.7 L587.9,616.9 L587.4,614.0 L587.0,611.1 L586.5,608.3 L586.1,605.4 L585.7,602.5 L585.4,599.6 L585.0,596.8 L584.7,593.9 L584.3,591.1 L584.0,588.2 L583.8,585.3 L583.5,582.5 L583.3,579.6 L583.0,576.8 L582.8,573.9 L582.7,571.1 L582.5,568.2 L582.4,565.3 L582.2,562.5 L582.1,559.7 L582.1,556.8 L582.0,554.0 L582.0,551.1 L582.0,548.3 L582.0,545.5 L582.0,542.6 L582.0,539.8 L582.1,537.0 L582.2,534.1 L582.3,531.3 L582.4,528.5Z" fill="#f9e6a6"/>
<path d="M582.5,525.7 L582.7,522.9 L582.9,520.0 L583.1,517.2 L583.3,514.4 L583.6,511.6 L583.8,508.8 L584.1,506.0 L584.4,503.2 L584.7,500.4 L585.1,497.6 L585.4,494.9 L585.8,492.1 L586.2,489.3 L586.7,486.5 L587.1,483.8 L587.6,481.0 L588.0,478.2 L588.5,475.5 L589.1,472.7 L589.6,470.0 L590.2,467.2 L590.7,464.5 L591.3,461.7 L591.9,459.0 L592.6,456.3 L593.2,453.6 L593.9,450.8 L594.6,448.1 L595.3,445.4 L596.0,442.7 L596.7,440.0 L597.5,437.3 L598.3,434.6 L599.1,431.9 L599.9,429.2 L600.7,426.5 L601.5,423.8 L602.4,421.1 L603.2,418.5 L604.1,415.8 L605.0,413.1 L606.0,410.5 L606.9,407.8 L607.8,405.1 L608.8,402.5 L609.8,399.8 L610.8,397.2 L611.8,394.5 L612.8,391.9 L613.9,389.2 L614.9,386.6 L616.0,384.0 L617.1,381.3 L618.2,378.7 L619.3,376.1 L620.4,373.4 L621.6,370.8 L622.7,368.2 L623.9,365.6 L625.1,363.0 L626.3,360.3 L627.5,357.7 L628.7,355.1 L630.0,352.5 L631.2,349.9 L632.5,347.3 L633.8,344.7 L635.1,342.1 L636.4,339.4 L637.7,336.8 L639.0,334.2 L640.4,331.6 L641.8,329.0 L643.1,326.4 L644.5,323.8 L646.0,321.2 L647.4,318.6 L648.8,316.0 L650.3,313.4 L651.8,310.8 L653.2,308.2 L654.8,305.6 L656.3,303.0 L657.8,300.5 L659.4,297.9 L660.9,295.3 L662.5,292.7 L664.1,290.1 L665.7,287.5 L667.4,284.9 L669.0,282.4 L670.7,279.8 L672.4,277.2 L674.1,274.6 L675.8,272.1 L677.6,269.5 L679.4,266.9 L681.1,264.4 L682.9,261.8 L684.8,259.3 L686.6,256.7 L688.5,254.2 L690.4,251.7 L692.3,249.1 L694.2,246.6 L696.2,244.1 L698.1,241.6 L700.1,239.1 L702.2,236.6 L704.2,234.2 L706.3,231.7 L708.4,229.2 L710.5,226.8 L712.6,224.3 L714.8,221.9 L716.9,219.5 L719.1,217.1 L721.4,214.7 L723.6,212.3 L725.9,210.0 L728.2,207.6 L730.6,205.3 L732.9,203.0 L735.3,200.7 L737.7,198.5 L740.1,196.2 L742.6,194.0 L745.1,191.8 L747.6,189.6 L750.1,187.4 L752.7,185.2 L755.3,183.1 L757.9,181.0 L760.5,179.0 L763.2,176.9 L765.9,174.9 L768.6,172.9 L771.3,170.9 L774.1,169.0 L776.9,167.1 L779.7,165.2 L782.5,163.4 L785.4,161.5 L788.2,159.8 L791.1,158.0 L794.1,156.3 L797.0,154.6 L800.0,153.0 L803.0,151.4 L806.0,149.8 L809.1,148.3 L812.1,146.8 L815.2,145.3 L818.3,143.9 L821.4,142.5 L824.6,141.2 L827.7,139.9 L830.9,138.6 L834.1,137.4 L837.3,136.2 L840.5,135.1 L843.8,134.0 L847.0,133.0 L850.3,132.0 L853.6,131.1 L856.9,130.2 L860.2,129.3 L863.5,128.5 L866.8,127.7 L870.2,127.0 L873.5,126.4 L876.9,125.7 L880.3,125.2 L883.7,124.7 L887.0,124.2 L890.4,123.8 L893.8,123.4 L897.3,123.1 L900.7,122.8 L904.1,122.6 L907.5,122.4 L910.9,122.3 L914.3,122.2 L917.8,122.2 L921.2,122.2 L924.6,122.3 L928.0,122.4 L931.5,122.6 L934.9,122.8 L938.3,123.1 L941.7,123.4 L945.1,123.7 L948.5,124.2 L951.9,124.6 L955.3,125.1 L958.7,125.7 L962.0,126.3 L965.4,127.0 L968.7,127.7 L972.1,128.4 L975.4,129.2 L978.7,130.1 L982.1,131.0 L985.3,131.9 L988.6,132.9 L991.9,133.9 L995.2,135.0 L998.4,136.1 L1001.6,137.3 L1004.8,138.5 L1008.0,139.7 L1011.2,141.0 L1014.4,142.3 L1017.5,143.7 L1020.6,145.1 L1023.7,146.6 L1026.8,148.0 L1029.9,149.6 L1032.9,151.1 L1035.9,152.7 L1038.9,154.4 L1041.9,156.0 L1044.9,157.7 L1047.8,159.5 L1050.7,161.3 L1053.6,163.1 L1056.5,164.9 L1059.3,166.8 L1062.2,168.7 L1065.0,170.6 L1067.7,172.6 L1070.5,174.6 L1073.2,176.6 L1075.9,178.7 L1078.6,180.7 L1081.3,182.9 L1083.9,185.0 L1086.5,187.2 L1089.1,189.3 L1091.6,191.5 L1094.2,193.8 L1096.7,196.0 L1099.1,198.3 L1101.6,200.6 L1104.0,202.9 L1106.4,205.3 L1108.8,207.7 L1111.2,210.0 L1113.5,212.5 L1115.8,214.9 L1118.1,217.3 L1120.3,219.8 L1122.5,222.3 L1124.7,224.7 L1126.9,227.3 L1129.0,229.8 L1131.1,232.3 L1133.2,234.9 L1135.2,237.5 L1137.3,240.1 L1139.2,242.8 L1141.2,245.4 L1143.1,248.0 L1145.0,250.7 L1146.9,253.4 L1148.7,256.1 L1150.5,258.8 L1152.3,261.5 L1154.0,264.2 L1155.7,267.0 L1157.4,269.7 L1159.1,272.5 L1160.7,275.3 L1162.4,278.0 L1163.9,280.8 L1165.5,283.6 L1167.0,286.4 L1168.5,289.2 L1170.0,292.0 L1171.4,294.8 L1172.9,297.7 L1174.2,300.5 L1175.6,303.3 L1176.9,306.2 L1178.3,309.0 L1179.5,311.9 L1180.8,314.8 L1182.0,317.6 L1183.2,320.5 L1184.4,323.4 L1185.6,326.2 L1186.7,329.1 L1187.8,332.0 L1188.9,334.9 L1189.9,337.7 L1190.9,340.6 L1191.9,343.5 L1192.9,346.4 L1193.8,349.3 L1194.7,352.2 L1195.6,355.1 L1196.5,358.0 L1197.3,360.9 L1198.2,363.8 L1198.9,366.7 L1199.7,369.6 L1200.4,372.5 L1201.1,375.4 L1201.8,378.3 L1202.5,381.2 L1203.1,384.1 L1203.7,387.0 L1204.3,389.9 L1204.9,392.7 L1205.4,395.6 L1205.9,398.5 L1206.4,401.4 L1206.9,404.3 L1207.3,407.2 L1207.7,410.1 L1208.1,412.9 L1208.4,415.8 L1208.8,418.7 L1209.1,421.6 L1209.4,424.4 L1209.6,427.3 L1209.9,430.1 L1210.1,433.0 L1210.3,435.9 L1210.5,438.7 L1210.6,441.5 L1210.7,444.4 L1210.8,447.2 L1210.9,450.1 L1211.0,452.9 L1211.0,455.7 L1211.0,458.5 L1211.0,461.3 L1211.0,464.1 L1210.9,467.0 L1210.8,469.8 L1210.8,472.5 L1210.6,475.3 L1210.5,478.1 L1210.3,480.9 L1210.2,483.7 L1210.0,486.4 L1209.7,489.2 L1209.5,492.0 L1209.2,494.7 L1209.0,497.5 L1208.7,500.2 L1208.4,503.0 L1208.0,505.7 L1207.7,508.4 L1207.3,511.1 L1206.9,513.9 L1206.5,516.6 L1206.1,519.3 L1205.6,522.0 L1205.2,524.7 L1204.7,527.4 L1204.2,530.0 L1203.7,532.7 L1203.2,535.4 L1202.7,538.1 L1202.1,540.7 L1201.6,543.4 L1201.0,546.1 L1200.4,548.7 L1199.8,551.4 L1199.2,554.0 L1198.5,556.7 L1197.9,559.3 L1197.2,561.9 L1196.6,564.6 L1195.9,567.2 L1195.2,569.8 L1194.5,572.4 L1193.8,575.1 L1193.0,577.7 L1192.3,580.3 L1191.5,582.9 L1190.8,585.5 L1190.0,588.1 L1189.2,590.7 L1188.4,593.3 L1187.6,595.9 L1186.8,598.5 L1185.9,601.1 L1185.1,603.7 L1184.3,606.3 L1183.4,608.9 L1182.5,611.5 L1181.7,614.1 L1180.8,616.7 L1179.9,619.3 L1179.0,621.8 L1178.1,624.4 L1177.2,627.0 L1176.2,629.6 L1175.3,632.2 L1174.3,634.8 L1173.4,637.4 L1172.4,639.9 L1171.5,642.5 L1170.5,645.1 L1169.5,647.7 L1168.5,650.3 L1167.5,652.9 L1166.5,655.5 L1165.4,658.0 L1164.4,660.6 L1163.4,663.2 L1162.3,665.8 L1161.3,668.4 L1160.2,671.0 L1159.1,673.5 L1158.0,676.1 L1156.9,678.7 L1155.8,681.3 L1154.7,683.9 L1153.6,686.5 L1152.4,689.1 L1151.3,691.6 L1150.1,694.2 L1148.9,696.8 L1147.8,699.4 L1146.6,702.0 L1145.3,704.5 L1144.1,707.1 L1142.9,709.7 L1141.7,712.3 L1140.4,714.9 L1139.1,717.4 L1137.9,720.0 L1136.6,722.6 L1135.2,725.1 L1133.9,727.7 L1132.6,730.3 L1131.2,732.8 L1129.9,735.4 L1128.5,737.9 L1127.1,740.5 L1125.7,743.0 L1124.2,745.6 L1122.8,748.1 L1121.3,750.6 L1119.9,753.1 L1118.4,755.7 L1116.9,758.2 L1115.3,760.7 L1113.8,763.2 L1112.2,765.7 L1110.6,768.2 L1109.0,770.6 L1107.4,773.1 L1105.8,775.6 L1104.1,778.0 L1102.4,780.5 L1100.7,782.9 L1099.0,785.3 L1097.3,787.8 L1095.5,790.2 L1093.7,792.6 L1091.9,794.9 L1090.1,797.3 L1088.3,799.7 L1086.4,802.0 L1084.5,804.4 L1082.6,806.7 L1080.7,809.0 L1078.7,811.3 L1076.7,813.5 L1074.8,815.8 L1072.7,818.1 L1070.7,820.3 L1068.6,822.5 L1066.5,824.7 L1064.4,826.9 L1062.3,829.0 L1060.2,831.2 L1058.0,833.3 L1055.8,835.4 L1053.6,837.4 L1051.3,839.5 L1049.1,841.5 L1046.8,843.6 L1044.5,845.5 L1042.1,847.5 L1039.8,849.5 L1037.4,851.4 L1035.0,853.3 L1032.6,855.1 L1030.2,857.0 L1027.7,858.8 L1025.2,860.6 L1022.7,862.4 L1020.2,864.1 L1017.6,865.8 L1015.1,867.5 L1012.5,869.2 L1009.9,870.8 L1007.2,872.4 L1004.6,873.9 L1001.9,875.5 L999.2,877.0 L996.5,878.5 L993.8,879.9 L991.0,881.3 L988.3,882.7 L985.5,884.0 L982.7,885.3 L979.9,886.6 L977.0,887.8 L974.2,889.1 L971.3,890.2 L968.4,891.4 L965.5,892.5 L962.6,893.5 L959.7,894.6 L956.7,895.5 L953.8,896.5 L950.8,897.4 L947.8,898.3 L944.8,899.1 L941.8,899.9 L938.8,900.7 L935.7,901.4 L932.7,902.1 L929.6,902.7 L926.5,903.4 L923.5,903.9 L920.4,904.4 L917.3,904.9 L914.2,905.4 L911.1,905.8 L907.9,906.1 L904.8,906.5 L901.7,906.7 L898.5,907.0 L895.4,907.2 L892.2,907.3 L889.1,907.5 L885.9,907.5 L882.7,907.6 L879.6,907.5 L876.4,907.5 L873.2,907.4 L870.1,907.3 L866.9,907.1 L863.7,906.9 L860.5,906.6 L857.4,906.3 L854.2,905.9 L851.0,905.5 L847.9,905.1 L844.7,904.6 L841.5,904.1 L838.4,903.6 L835.2,903.0 L832.1,902.3 L829.0,901.6 L825.8,900.9 L822.7,900.1 L819.6,899.3 L816.5,898.5 L813.4,897.6 L810.3,896.7 L807.2,895.7 L804.1,894.7 L801.1,893.6 L798.0,892.6 L795.0,891.4 L792.0,890.3 L788.9,889.1 L785.9,887.8 L783.0,886.5 L780.0,885.2 L777.0,883.9 L774.1,882.5 L771.2,881.1 L768.3,879.6 L765.4,878.1 L762.5,876.6 L759.6,875.0 L756.8,873.4 L754.0,871.7 L751.2,870.1 L748.4,868.4 L745.6,866.6 L742.9,864.9 L740.1,863.1 L737.4,861.2 L734.7,859.4 L732.1,857.5 L729.4,855.6 L726.8,853.6 L724.2,851.6 L721.6,849.6 L719.1,847.6 L716.5,845.5 L714.0,843.5 L711.5,841.3 L709.1,839.2 L706.6,837.0 L704.2,834.8 L701.8,832.6 L699.4,830.4 L697.1,828.1 L694.8,825.9 L692.5,823.6 L690.2,821.2 L687.9,818.9 L685.7,816.5 L683.5,814.1 L681.3,811.7 L679.2,809.3 L677.1,806.9 L675.0,804.4 L672.9,802.0 L670.8,799.5 L668.8,797.0 L666.8,794.4 L664.8,791.9 L662.9,789.4 L660.9,786.8 L659.0,784.2 L657.2,781.6 L655.3,779.0 L653.5,776.4 L651.7,773.8 L649.9,771.1 L648.1,768.5 L646.4,765.8 L644.7,763.1 L643.0,760.5 L641.4,757.8 L639.7,755.1 L638.1,752.4 L636.5,749.6 L635.0,746.9 L633.4,744.2 L631.9,741.4 L630.4,738.7 L629.0,735.9 L627.5,733.2 L626.1,730.4 L624.7,727.6 L623.3,724.9 L622.0,722.1 L620.6,719.3 L619.3,716.5 L618.1,713.7 L616.8,710.9 L615.6,708.1 L614.3,705.3 L613.1,702.5 L612.0,699.6 L610.8,696.8 L609.7,694.0 L608.6,691.2 L607.5,688.3 L606.5,685.5 L605.4,682.7 L604.4,679.8 L603.4,677.0 L602.4,674.1 L601.5,671.3 L600.6,668.4 L599.7,665.6 L598.8,662.7 L597.9,659.9 L597.1,657.0 L596.3,654.1 L595.5,651.3 L594.7,648.4 L594.0,645.6 L593.3,642.7 L592.6,639.8 L591.9,637.0 L591.2,634.1 L590.6,631.2 L590.0,628.4 L589.5,625.5 L588.9,622.6 L588.4,619.7 L587.9,616.9 L587.4,614.0 L587.0,611.1 L586.5,608.3 L586.1,605.4 L585.7,602.5 L585.4,599.6 L585.0,596.8 L584.7,593.9 L584.3,591.1 L584.0,588.2 L583.8,585.3 L583.5,582.5 L583.3,579.6 L583.0,576.8 L582.8,573.9 L582.7,571.1 L582.5,568.2 L582.4,565.3 L582.2,562.5 L582.1,559.7 L582.1,556.8 L582.0,554.0 L582.0,551.1 L582.0,548.3 L582.0,545.5 L582.0,542.6 L582.0,539.8 L582.1,537.0 L582.2,534.1 L582.3,531.3 L582.4,528.5Z" fill="#f8da5c"/>
<path d="M1140.0,359.5 C1136.3,359.5 1132.2,362.1 1129.0,366.0 C1125.8,369.9 1125.6,368.2 1120.9,383.0 C1116.2,397.8 1109.4,432.3 1100.8,454.8 C1092.2,477.3 1081.7,498.9 1069.2,518.0 C1056.8,537.1 1042.8,553.4 1026.1,569.7 C1009.3,586.0 988.1,600.6 968.7,615.6 C949.3,630.6 925.0,649.7 909.7,660.0 C894.4,670.3 889.7,671.3 876.9,677.5 C864.1,683.7 849.5,691.7 833.1,697.2 C816.7,702.7 796.6,707.0 778.4,710.3 C760.2,713.6 736.5,714.7 723.8,716.9 C711.0,719.1 706.8,718.3 701.9,723.4 C697.0,728.5 693.5,737.6 694.2,747.5 C694.9,757.4 699.5,770.8 706.3,782.5 C713.0,794.2 724.5,806.9 734.7,817.5 C744.9,828.1 756.6,838.7 767.5,846.0 C778.4,853.3 789.4,857.3 800.3,861.3 C811.2,865.3 819.8,867.7 833.1,870.0 C846.4,872.3 862.2,875.7 880.0,875.0 C897.8,874.3 921.7,869.8 940.0,866.0 C958.3,862.2 973.7,859.7 990.0,852.0 C1006.3,844.3 1023.7,832.0 1038.0,820.0 C1052.3,808.0 1064.8,793.3 1076.0,780.0 C1087.2,766.7 1097.0,753.0 1105.0,740.0 C1113.0,727.0 1116.3,720.3 1124.0,702.0 C1131.7,683.7 1144.5,653.7 1151.0,630.0 C1157.5,606.3 1160.0,578.3 1163.0,560.0 C1166.0,541.7 1167.5,534.2 1169.0,520.0 C1170.5,505.8 1171.8,490.0 1172.0,475.0 C1172.2,460.0 1171.5,443.3 1170.0,430.0 C1168.5,416.7 1166.2,405.7 1163.0,395.0 C1159.8,384.3 1154.8,371.9 1151.0,366.0 C1147.2,360.1 1143.7,359.5 1140.0,359.5Z" fill="#f6d44a"/>
<path d="M1150.0,373.0 C1147.5,370.1 1148.7,368.5 1146.7,377.3 C1144.7,386.1 1141.3,408.3 1138.0,426.0 C1134.7,443.7 1131.8,464.4 1126.6,483.6 C1121.3,502.8 1114.6,522.8 1106.5,541.0 C1098.4,559.2 1086.4,576.2 1077.8,592.7 C1069.2,609.2 1065.0,620.8 1054.8,640.0 C1044.6,659.2 1029.3,692.0 1016.6,707.7 C1003.9,723.4 987.7,728.5 978.3,734.4 C968.9,740.3 973.2,737.6 960.0,743.1 C946.8,748.6 916.3,762.1 898.8,767.2 C881.3,772.3 873.2,773.4 855.0,773.8 C836.8,774.2 807.6,770.5 789.4,769.4 C771.2,768.3 755.8,765.8 745.6,767.2 C735.4,768.7 731.7,774.1 728.1,778.1 C724.5,782.1 722.3,785.8 723.8,791.3 C725.3,796.8 729.6,804.5 736.9,811.0 C744.2,817.5 755.1,824.4 767.5,830.6 C779.9,836.8 796.7,843.4 811.3,848.1 C825.9,852.8 840.4,856.4 855.0,859.0 C869.6,861.6 884.6,863.5 898.8,863.5 C913.0,863.5 925.2,862.0 940.0,859.0 C954.8,856.0 971.8,852.9 987.8,845.5 C1003.8,838.1 1021.3,826.3 1035.7,814.8 C1050.1,803.3 1062.8,789.4 1074.0,776.6 C1085.2,763.9 1094.7,751.1 1102.7,738.3 C1110.7,725.5 1114.0,718.2 1121.8,700.0 C1129.6,681.8 1142.8,652.2 1149.3,628.9 C1155.8,605.6 1158.0,578.1 1160.8,560.0 C1163.6,541.9 1164.5,534.2 1166.0,520.0 C1167.5,505.8 1169.6,490.0 1170.0,475.0 C1170.4,460.0 1169.8,443.3 1168.5,430.0 C1167.2,416.7 1165.1,404.5 1162.0,395.0 C1158.9,385.5 1152.5,375.9 1150.0,373.0Z" fill="#f4cc35"/>
<path d="M748.0,421.5 C745.2,421.2 741.7,419.6 739.5,416.0 C737.3,412.4 735.8,404.7 735.0,400.0 C734.2,395.3 734.2,397.7 734.9,387.6 C735.6,377.5 734.8,353.6 739.0,339.3 C743.2,325.0 751.5,313.9 760.4,301.8 C769.3,289.8 780.9,276.6 792.5,267.0 C804.1,257.4 817.5,249.6 830.0,244.2 C842.5,238.8 857.3,235.2 867.6,234.3 C877.9,233.4 885.0,234.8 891.7,238.9 C898.4,243.0 905.1,252.1 907.8,259.0 C910.5,265.9 910.0,274.6 907.8,280.4 C905.6,286.2 901.1,289.3 894.4,293.8 C887.7,298.3 878.3,301.9 867.6,307.2 C856.9,312.5 841.6,318.3 830.0,325.9 C818.4,333.5 807.7,342.4 797.9,352.7 C788.1,363.0 777.2,378.4 771.1,387.6 C765.0,396.8 763.5,402.9 761.0,408.0 C758.5,413.1 758.2,415.8 756.0,418.0 C753.8,420.2 750.8,421.8 748.0,421.5Z" fill="#f8e6a4"/>
<ellipse cx="701" cy="520" rx="18.5" ry="29" fill="#f8e6a4" transform="rotate(-8 701 520)"/>
<line x1="410.0" y1="276.2" x2="735.0" y2="276.2" stroke="#222" stroke-width="2.3" stroke-dasharray="5 3.9"/>
<line x1="410.0" y1="359.6" x2="735.0" y2="359.6" stroke="#222" stroke-width="2.3" stroke-dasharray="5 3.9"/>
<line x1="410.0" y1="410.2" x2="735.0" y2="410.2" stroke="#222" stroke-width="2.3" stroke-dasharray="5 3.9"/>
<line x1="410.0" y1="539.1" x2="735.0" y2="539.1" stroke="#222" stroke-width="2.3" stroke-dasharray="5 3.9"/>
<line x1="410.0" y1="610.6" x2="735.0" y2="610.6" stroke="#222" stroke-width="2.3" stroke-dasharray="5 3.9"/>
<line x1="410.0" y1="678.7" x2="735.0" y2="678.7" stroke="#222" stroke-width="2.3" stroke-dasharray="5 3.9"/>
<line x1="410.0" y1="733.7" x2="735.0" y2="733.7" stroke="#222" stroke-width="2.3" stroke-dasharray="5 3.9"/>
<line x1="410.0" y1="805.2" x2="735.0" y2="805.2" stroke="#222" stroke-width="2.3" stroke-dasharray="5 3.9"/>
<line x1="350.3" y1="895.6" x2="753.4" y2="895.6" stroke="#222" stroke-width="2.3" stroke-dasharray="5 3.9"/>
<line x1="472" y1="197.1" x2="662" y2="199.1" stroke="#1e1e1e" stroke-width="2" stroke-dasharray="4.2 4.7"/>
<path d="M662.2,193.7 L673,199.1 L662.2,204.5Z" fill="#1e1e1e"/>
<line x1="480.2" y1="929.1" x2="714" y2="929.1" stroke="#1e1e1e" stroke-width="2" stroke-dasharray="4.4 4.5"/>
<path d="M478.3,924.1 L469.1,929.1 L478.3,934.1Z" fill="#1e1e1e"/>
<path d="M713,924.5 L722.5,929.2 L713,934Z" fill="#1e1e1e"/>
<path d="M532.6,392.8 L543,387.8 L543,397.8Z" fill="#1e1e1e"/>
<path d="M564.8,392.8 L554.5,387.8 L554.5,397.8Z" fill="#1e1e1e"/>
<rect x="542" y="391.8" width="3" height="2" fill="#1e1e1e"/>
<rect x="550.1" y="391.8" width="3.8" height="2" fill="#1e1e1e"/>
<path d="M495.3,436.8 L505.6,432 L505.6,441.6Z" fill="#1e1e1e"/>
<path d="M530.5,436.8 L521.1,432 L521.1,441.6Z" fill="#1e1e1e"/>
<rect x="505" y="435.8" width="3" height="2" fill="#1e1e1e"/>
<rect x="512.2" y="435.8" width="4.2" height="2" fill="#1e1e1e"/>
<text transform="translate(539.52 380.00) scale(22.0833 29.5714)" font-size="1" font-family='"Liberation Sans", sans-serif' font-weight="normal" fill="#111">?</text>
<rect x="377.3" y="179.1" width="91.8" height="34.7" rx="17.4" fill="#eaeff9" stroke="#9aabd0" stroke-width="4.2"/><text transform="translate(381.93 204.70) scale(25.0560 27.3455)" font-size="1" font-family='"Liberation Sans", sans-serif' font-weight="normal" fill="#000" stroke="#eaeff9" stroke-width="0.25" vector-effect="non-scaling-stroke">DGAT2</text>
<rect x="398.3" y="222.7" width="87.2" height="33.8" rx="16.9" fill="#b5e3dc" stroke="#9aabd0" stroke-width="4.2"/><text transform="translate(402.64 247.30) scale(24.9606 27.9273)" font-size="1" font-family='"Liberation Sans", sans-serif' font-weight="normal" fill="#000" stroke="#b5e3dc" stroke-width="0.25" vector-effect="non-scaling-stroke">FATP1</text>
<rect x="409.2" y="291.1" width="106.6" height="34.9" rx="17.5" fill="#e2dff3" stroke="#4a3a8e" stroke-width="4.2"/><text transform="translate(423.60 316.10) scale(25.4323 27.0545)" font-size="1" font-family='"Liberation Sans", sans-serif' font-weight="normal" fill="#000" stroke="#e2dff3" stroke-width="0.25" vector-effect="non-scaling-stroke">Rab8a</text>
<rect x="575.2" y="289.2" width="100.6" height="34.7" rx="17.3" fill="#3d70bf" stroke="#1e3a80" stroke-width="4.2"/><text transform="translate(588.74 313.90) scale(26.1770 27.7818)" font-size="1" font-family='"Liberation Sans", sans-serif' font-weight="normal" fill="#fff" stroke="#3d70bf" stroke-width="0.25" vector-effect="non-scaling-stroke">PLIN5</text>
<rect x="495.8" y="321.4" width="109.0" height="33.0" rx="16.5" fill="#f3f2d6" stroke="#3c6e44" stroke-width="4.2"/><text transform="translate(524.24 345.60) scale(23.4965 25.6000)" font-size="1" font-family='"Liberation Sans", sans-serif' font-weight="normal" fill="#000" stroke="#f3f2d6" stroke-width="0.25" vector-effect="non-scaling-stroke">ATGL</text>
<rect x="674.1" y="181.5" width="92.5" height="35.1" rx="17.5" fill="#eaeff9" stroke="#9aabd0" stroke-width="4.2"/><text transform="translate(678.72 206.70) scale(25.1840 26.7636)" font-size="1" font-family='"Liberation Sans", sans-serif' font-weight="normal" fill="#000" stroke="#eaeff9" stroke-width="0.25" vector-effect="non-scaling-stroke">DGAT2</text>
<rect x="434.6" y="375.5" width="94.3" height="32.4" rx="16.2" fill="#eef0d8" stroke="#3c6e44" stroke-width="4.2"/><text transform="translate(444.76 398.80) scale(22.3352 24.5818)" font-size="1" font-family='"Liberation Sans", sans-serif' font-weight="normal" fill="#000" stroke="#eef0d8" stroke-width="0.25" vector-effect="non-scaling-stroke">DFCP1</text>
<rect x="565.0" y="375.5" width="93.3" height="33.4" rx="16.7" fill="#dcecf6" stroke="#3d7586" stroke-width="4.2"/><text transform="translate(572.93 399.70) scale(26.2766 25.8909)" font-size="1" font-family='"Liberation Sans", sans-serif' font-weight="normal" fill="#000" stroke="#dcecf6" stroke-width="0.25" vector-effect="non-scaling-stroke">Rab18</text>
<rect x="450.4" y="454.2" width="115.0" height="34.5" rx="17.2" fill="#f6f3d8" stroke="#8f8032" stroke-width="4.2"/><text transform="translate(472.24 478.80) scale(24.0898 26.3273)" font-size="1" font-family='"Liberation Sans", sans-serif' font-weight="normal" fill="#000" stroke="#f6f3d8" stroke-width="0.25" vector-effect="non-scaling-stroke">ACSL1</text>
<rect x="533.2" y="419.3" width="115.3" height="35.0" rx="17.5" fill="#7f848c" stroke="#1f3a80" stroke-width="4.2"/><text transform="translate(539.30 444.40) scale(26.6044 27.4909)" font-size="1" font-family='"Liberation Sans", sans-serif' font-weight="normal" fill="#fff" stroke="#7f848c" stroke-width="0.25" vector-effect="non-scaling-stroke">SNAP23</text>
<rect x="532.3" y="493.7" width="115.6" height="34.5" rx="17.2" fill="#a8a9b0" stroke="#1f3a80" stroke-width="4.2"/><text transform="translate(549.87 519.10) scale(26.7174 27.4909)" font-size="1" font-family='"Liberation Sans", sans-serif' font-weight="normal" fill="#fff" stroke="#a8a9b0" stroke-width="0.25" vector-effect="non-scaling-stroke">VAMP4</text>
<rect x="459.3" y="554.3" width="86.9" height="35.0" rx="17.5" fill="#f0a9a6" stroke="#3e3862" stroke-width="4.2"/><text transform="translate(465.77 579.40) scale(27.0531 27.4909)" font-size="1" font-family='"Liberation Sans", sans-serif' font-weight="normal" fill="#000" stroke="#f0a9a6" stroke-width="0.25" vector-effect="non-scaling-stroke">MNF2</text>
<rect x="549.2" y="555.4" width="86.9" height="34.8" rx="17.4" fill="#8fc384" stroke="#3e3862" stroke-width="4.2"/><text transform="translate(554.85 581.10) scale(24.8536 27.4909)" font-size="1" font-family='"Liberation Sans", sans-serif' font-weight="normal" fill="#000" stroke="#8fc384" stroke-width="0.25" vector-effect="non-scaling-stroke">PLIN1</text>
<rect x="459.3" y="626.5" width="88.3" height="35.0" rx="17.5" fill="#e4e4e6" stroke="#4a4a4c" stroke-width="4.2"/><text transform="translate(466.77 651.60) scale(24.6918 27.0545)" font-size="1" font-family='"Liberation Sans", sans-serif' font-weight="normal" fill="#000" stroke="#e4e4e6" stroke-width="0.25" vector-effect="non-scaling-stroke">CAV-1</text>
<rect x="570.7" y="626.5" width="87.8" height="35.0" rx="17.5" fill="#e4e4e6" stroke="#4a4a4c" stroke-width="4.2"/><text transform="translate(578.07 651.60) scale(24.5446 27.0545)" font-size="1" font-family='"Liberation Sans", sans-serif' font-weight="normal" fill="#000" stroke="#e4e4e6" stroke-width="0.25" vector-effect="non-scaling-stroke">CAV-1</text>
<rect x="479.2" y="693.2" width="125.0" height="34.8" rx="17.4" fill="#d8d6f0" stroke="#3e3d62" stroke-width="4.2"/><text transform="translate(500.97 718.50) scale(25.7935 25.7455)" font-size="1" font-family='"Liberation Sans", sans-serif' font-weight="normal" fill="#000" stroke="#d8d6f0" stroke-width="0.25" vector-effect="non-scaling-stroke">MIGA2</text>
<rect x="438.2" y="755.1" width="125.4" height="34.4" rx="17.2" fill="#f8f8ec" stroke="#c8d0a0" stroke-width="4.2"/><text transform="translate(452.17 779.50) scale(25.7766 25.1636)" font-size="1" font-family='"Liberation Sans", sans-serif' font-weight="normal" fill="#000" stroke="#f8f8ec" stroke-width="0.25" vector-effect="non-scaling-stroke">VSP13D</text>
<rect x="568.6" y="755.1" width="114.2" height="34.4" rx="17.2" fill="#dcedf5" stroke="#35708a" stroke-width="4.2"/><text transform="translate(584.41 779.50) scale(24.1348 25.1636)" font-size="1" font-family='"Liberation Sans", sans-serif' font-weight="normal" fill="#000" stroke="#dcedf5" stroke-width="0.25" vector-effect="non-scaling-stroke">ESCRT</text>
<rect x="400.9" y="819.6" width="90.0" height="34.0" rx="17.0" fill="#f6e0e6" stroke="#8e2f55" stroke-width="4.2"/><text transform="translate(412.60 844.50) scale(24.1935 26.5455)" font-size="1" font-family='"Liberation Sans", sans-serif' font-weight="normal" fill="#000" stroke="#f6e0e6" stroke-width="0.25" vector-effect="non-scaling-stroke">ORP5</text>
<rect x="388.4" y="857.1" width="89.5" height="34.5" rx="17.3" fill="#f3d3ea" stroke="#a04c7e" stroke-width="4.2"/><text transform="translate(400.85 881.75) scale(24.1216 26.9091)" font-size="1" font-family='"Liberation Sans", sans-serif' font-weight="normal" fill="#000" stroke="#f3d3ea" stroke-width="0.25" vector-effect="non-scaling-stroke">ORP8</text>
<rect x="479.6" y="849.6" width="210.8" height="34.5" rx="17.3" fill="#dcf3d6" stroke="#2f6e2b" stroke-width="4.2"/><text transform="translate(543.88 875.50) scale(24.9802 28.0000)" font-size="1" font-family='"Liberation Sans", sans-serif' font-weight="normal" fill="#000" stroke="#dcf3d6" stroke-width="0.25" vector-effect="non-scaling-stroke">SEIPIN</text>
<rect x="319.0" y="911.4" width="147.6" height="39.0" rx="19.5" fill="#f8e8ef" stroke="#4d4a50" stroke-width="4.2"/><text transform="translate(337.62 939.20) scale(27.8571 26.1818)" font-size="1" font-family='"Liberation Sans", sans-serif' font-weight="normal" fill="#000" stroke="#f8e8ef" stroke-width="0.25" vector-effect="non-scaling-stroke">mito-p53</text>
<rect x="724.3" y="911.1" width="99.6" height="35.3" rx="17.6" fill="#ced4e8" stroke="#3d4878" stroke-width="4.2"/><text transform="translate(736.61 935.60) scale(26.5537 26.1818)" font-size="1" font-family='"Liberation Sans", sans-serif' font-weight="normal" fill="#000" stroke="#ced4e8" stroke-width="0.25" vector-effect="non-scaling-stroke">PLIN5</text>
</svg></body></html>
